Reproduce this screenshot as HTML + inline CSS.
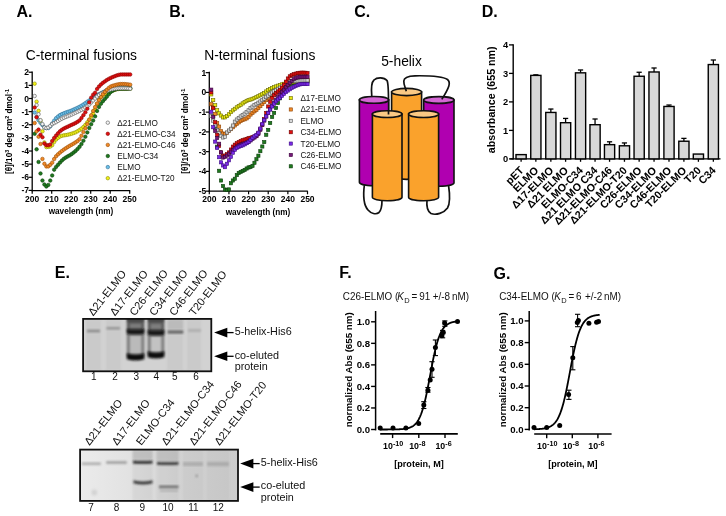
<!DOCTYPE html>
<html><head><meta charset="utf-8"><style>
html,body{margin:0;padding:0;background:#fff;}
svg{display:block;will-change:transform;font-family:"Liberation Sans", sans-serif;}
</style></head><body>
<svg width="726" height="516" viewBox="0 0 726 516">
<rect width="726" height="516" fill="#fff"/>
<text x="16.50" y="17.20" font-size="16" font-weight="bold" text-anchor="start" fill="#000" >A.</text>
<text x="169.20" y="17.40" font-size="16" font-weight="bold" text-anchor="start" fill="#000" >B.</text>
<text x="354.30" y="17.20" font-size="16" font-weight="bold" text-anchor="start" fill="#000" >C.</text>
<text x="481.80" y="16.90" font-size="16" font-weight="bold" text-anchor="start" fill="#000" >D.</text>
<text x="54.80" y="278.40" font-size="16" font-weight="bold" text-anchor="start" fill="#000" >E.</text>
<text x="339.30" y="277.70" font-size="16" font-weight="bold" text-anchor="start" fill="#000" >F.</text>
<text x="493.60" y="279.00" font-size="16" font-weight="bold" text-anchor="start" fill="#000" >G.</text>
<text x="25.80" y="59.70" font-size="13.8" text-anchor="start" fill="#000" >C-terminal fusions</text>
<line x1="32.20" y1="71.60" x2="32.20" y2="191.20" stroke="#000" stroke-width="1.3"/>
<line x1="31.60" y1="190.60" x2="130.20" y2="190.60" stroke="#000" stroke-width="1.3"/>
<line x1="28.60" y1="72.24" x2="32.20" y2="72.24" stroke="#000" stroke-width="1.2"/>
<text x="29.00" y="75.24" font-size="8.5" font-weight="bold" text-anchor="end" fill="#000" >2</text>
<line x1="28.60" y1="85.37" x2="32.20" y2="85.37" stroke="#000" stroke-width="1.2"/>
<text x="29.00" y="88.37" font-size="8.5" font-weight="bold" text-anchor="end" fill="#000" >1</text>
<line x1="28.60" y1="98.50" x2="32.20" y2="98.50" stroke="#000" stroke-width="1.2"/>
<text x="29.00" y="101.50" font-size="8.5" font-weight="bold" text-anchor="end" fill="#000" >0</text>
<line x1="28.60" y1="111.63" x2="32.20" y2="111.63" stroke="#000" stroke-width="1.2"/>
<text x="29.00" y="114.63" font-size="8.5" font-weight="bold" text-anchor="end" fill="#000" >-1</text>
<line x1="28.60" y1="124.76" x2="32.20" y2="124.76" stroke="#000" stroke-width="1.2"/>
<text x="29.00" y="127.76" font-size="8.5" font-weight="bold" text-anchor="end" fill="#000" >-2</text>
<line x1="28.60" y1="137.89" x2="32.20" y2="137.89" stroke="#000" stroke-width="1.2"/>
<text x="29.00" y="140.89" font-size="8.5" font-weight="bold" text-anchor="end" fill="#000" >-3</text>
<line x1="28.60" y1="151.02" x2="32.20" y2="151.02" stroke="#000" stroke-width="1.2"/>
<text x="29.00" y="154.02" font-size="8.5" font-weight="bold" text-anchor="end" fill="#000" >-4</text>
<line x1="28.60" y1="164.15" x2="32.20" y2="164.15" stroke="#000" stroke-width="1.2"/>
<text x="29.00" y="167.15" font-size="8.5" font-weight="bold" text-anchor="end" fill="#000" >-5</text>
<line x1="28.60" y1="177.28" x2="32.20" y2="177.28" stroke="#000" stroke-width="1.2"/>
<text x="29.00" y="180.28" font-size="8.5" font-weight="bold" text-anchor="end" fill="#000" >-6</text>
<line x1="28.60" y1="190.41" x2="32.20" y2="190.41" stroke="#000" stroke-width="1.2"/>
<text x="29.00" y="193.41" font-size="8.5" font-weight="bold" text-anchor="end" fill="#000" >-7</text>
<line x1="32.20" y1="190.60" x2="32.20" y2="193.80" stroke="#000" stroke-width="1.2"/>
<text x="32.20" y="202.30" font-size="8.5" font-weight="bold" text-anchor="middle" fill="#000" >200</text>
<line x1="51.70" y1="190.60" x2="51.70" y2="193.80" stroke="#000" stroke-width="1.2"/>
<text x="51.70" y="202.30" font-size="8.5" font-weight="bold" text-anchor="middle" fill="#000" >210</text>
<line x1="71.20" y1="190.60" x2="71.20" y2="193.80" stroke="#000" stroke-width="1.2"/>
<text x="71.20" y="202.30" font-size="8.5" font-weight="bold" text-anchor="middle" fill="#000" >220</text>
<line x1="90.70" y1="190.60" x2="90.70" y2="193.80" stroke="#000" stroke-width="1.2"/>
<text x="90.70" y="202.30" font-size="8.5" font-weight="bold" text-anchor="middle" fill="#000" >230</text>
<line x1="110.20" y1="190.60" x2="110.20" y2="193.80" stroke="#000" stroke-width="1.2"/>
<text x="110.20" y="202.30" font-size="8.5" font-weight="bold" text-anchor="middle" fill="#000" >240</text>
<line x1="129.70" y1="190.60" x2="129.70" y2="193.80" stroke="#000" stroke-width="1.2"/>
<text x="129.70" y="202.30" font-size="8.5" font-weight="bold" text-anchor="middle" fill="#000" >250</text>
<text x="81.00" y="214.00" font-size="8.2" font-weight="bold" text-anchor="middle" fill="#000" >wavelength (nm)</text>
<text transform="translate(11.6,131.5) rotate(-90)" font-size="8.2" font-weight="bold" text-anchor="middle">[&#952;]/10<tspan font-size="5.5" dy="-3">3</tspan><tspan dy="3"> deg cm</tspan><tspan font-size="5.5" dy="-3">2</tspan><tspan dy="3"> dmol</tspan><tspan font-size="5.5" dy="-3">-1</tspan></text>
<g fill="#6cc0e8" stroke="#2a6a90" stroke-width="0.6"><circle cx="34.65" cy="112.55" r="1.75"/><circle cx="36.60" cy="116.74" r="1.75"/><circle cx="38.55" cy="120.16" r="1.75"/><circle cx="40.50" cy="122.79" r="1.75"/><circle cx="42.45" cy="125.02" r="1.75"/><circle cx="44.40" cy="127.50" r="1.75"/><circle cx="46.35" cy="128.04" r="1.75"/><circle cx="48.30" cy="128.04" r="1.75"/><circle cx="50.25" cy="126.36" r="1.75"/><circle cx="52.20" cy="123.45" r="1.75"/><circle cx="54.15" cy="120.69" r="1.75"/><circle cx="56.10" cy="118.19" r="1.75"/><circle cx="58.05" cy="116.47" r="1.75"/><circle cx="60.00" cy="115.12" r="1.75"/><circle cx="61.95" cy="114.09" r="1.75"/><circle cx="63.90" cy="113.25" r="1.75"/><circle cx="65.85" cy="112.53" r="1.75"/><circle cx="67.80" cy="111.86" r="1.75"/><circle cx="69.75" cy="111.18" r="1.75"/><circle cx="71.70" cy="110.43" r="1.75"/><circle cx="73.65" cy="109.59" r="1.75"/><circle cx="75.60" cy="108.72" r="1.75"/><circle cx="77.55" cy="107.81" r="1.75"/><circle cx="79.50" cy="106.83" r="1.75"/><circle cx="81.45" cy="105.76" r="1.75"/><circle cx="83.40" cy="104.50" r="1.75"/><circle cx="85.35" cy="103.13" r="1.75"/><circle cx="87.30" cy="101.78" r="1.75"/><circle cx="89.25" cy="100.47" r="1.75"/><circle cx="91.20" cy="99.16" r="1.75"/><circle cx="93.15" cy="97.80" r="1.75"/><circle cx="95.10" cy="96.45" r="1.75"/><circle cx="97.05" cy="95.22" r="1.75"/><circle cx="99.00" cy="94.14" r="1.75"/><circle cx="100.95" cy="93.14" r="1.75"/><circle cx="102.90" cy="92.20" r="1.75"/><circle cx="104.85" cy="91.28" r="1.75"/><circle cx="106.80" cy="90.30" r="1.75"/><circle cx="108.75" cy="89.33" r="1.75"/><circle cx="110.70" cy="88.53" r="1.75"/><circle cx="112.65" cy="88.04" r="1.75"/><circle cx="114.60" cy="87.62" r="1.75"/><circle cx="116.55" cy="87.27" r="1.75"/><circle cx="118.50" cy="87.03" r="1.75"/><circle cx="120.45" cy="86.95" r="1.75"/><circle cx="122.40" cy="86.96" r="1.75"/><circle cx="124.35" cy="87.03" r="1.75"/><circle cx="126.30" cy="87.17" r="1.75"/><circle cx="128.25" cy="87.40" r="1.75"/><circle cx="130.20" cy="87.73" r="1.75"/></g>
<g fill="#f2f21a" stroke="#8a8a00" stroke-width="0.6"><circle cx="34.65" cy="83.66" r="1.75"/><circle cx="36.60" cy="101.65" r="1.75"/><circle cx="38.55" cy="110.87" r="1.75"/><circle cx="40.50" cy="120.69" r="1.75"/><circle cx="42.45" cy="131.32" r="1.75"/><circle cx="44.40" cy="142.41" r="1.75"/><circle cx="46.35" cy="147.08" r="1.75"/><circle cx="48.30" cy="146.90" r="1.75"/><circle cx="50.25" cy="146.52" r="1.75"/><circle cx="52.20" cy="145.13" r="1.75"/><circle cx="54.15" cy="142.09" r="1.75"/><circle cx="56.10" cy="139.47" r="1.75"/><circle cx="58.05" cy="137.82" r="1.75"/><circle cx="60.00" cy="136.51" r="1.75"/><circle cx="61.95" cy="135.76" r="1.75"/><circle cx="63.90" cy="135.37" r="1.75"/><circle cx="65.85" cy="135.07" r="1.75"/><circle cx="67.80" cy="134.69" r="1.75"/><circle cx="69.75" cy="134.22" r="1.75"/><circle cx="71.70" cy="133.67" r="1.75"/><circle cx="73.65" cy="133.04" r="1.75"/><circle cx="75.60" cy="132.29" r="1.75"/><circle cx="77.55" cy="131.26" r="1.75"/><circle cx="79.50" cy="130.02" r="1.75"/><circle cx="81.45" cy="128.67" r="1.75"/><circle cx="83.40" cy="127.02" r="1.75"/><circle cx="85.35" cy="124.87" r="1.75"/><circle cx="87.30" cy="122.34" r="1.75"/><circle cx="89.25" cy="119.61" r="1.75"/><circle cx="91.20" cy="116.71" r="1.75"/><circle cx="93.15" cy="113.46" r="1.75"/><circle cx="95.10" cy="109.56" r="1.75"/><circle cx="97.05" cy="103.98" r="1.75"/><circle cx="99.00" cy="99.78" r="1.75"/><circle cx="100.95" cy="97.09" r="1.75"/><circle cx="102.90" cy="95.22" r="1.75"/><circle cx="104.85" cy="93.91" r="1.75"/><circle cx="106.80" cy="92.86" r="1.75"/><circle cx="108.75" cy="92.00" r="1.75"/><circle cx="110.70" cy="91.28" r="1.75"/><circle cx="112.65" cy="90.59" r="1.75"/><circle cx="114.60" cy="89.92" r="1.75"/><circle cx="116.55" cy="89.34" r="1.75"/><circle cx="118.50" cy="88.94" r="1.75"/><circle cx="120.45" cy="88.78" r="1.75"/><circle cx="122.40" cy="88.78" r="1.75"/><circle cx="124.35" cy="88.78" r="1.75"/><circle cx="126.30" cy="88.78" r="1.75"/><circle cx="128.25" cy="88.78" r="1.75"/><circle cx="130.20" cy="88.78" r="1.75"/></g>
<g fill="#1f7a1f" stroke="#0a400a" stroke-width="0.6"><circle cx="34.65" cy="133.82" r="1.75"/><circle cx="36.60" cy="149.31" r="1.75"/><circle cx="38.55" cy="161.92" r="1.75"/><circle cx="40.50" cy="173.47" r="1.75"/><circle cx="42.45" cy="180.56" r="1.75"/><circle cx="44.40" cy="184.50" r="1.75"/><circle cx="46.35" cy="186.47" r="1.75"/><circle cx="48.30" cy="184.90" r="1.75"/><circle cx="50.25" cy="180.56" r="1.75"/><circle cx="52.20" cy="175.44" r="1.75"/><circle cx="54.15" cy="169.66" r="1.75"/><circle cx="56.10" cy="166.89" r="1.75"/><circle cx="58.05" cy="164.81" r="1.75"/><circle cx="60.00" cy="162.59" r="1.75"/><circle cx="61.95" cy="160.51" r="1.75"/><circle cx="63.90" cy="158.77" r="1.75"/><circle cx="65.85" cy="157.45" r="1.75"/><circle cx="67.80" cy="156.36" r="1.75"/><circle cx="69.75" cy="155.30" r="1.75"/><circle cx="71.70" cy="154.04" r="1.75"/><circle cx="73.65" cy="152.55" r="1.75"/><circle cx="75.60" cy="150.89" r="1.75"/><circle cx="77.55" cy="149.01" r="1.75"/><circle cx="79.50" cy="146.85" r="1.75"/><circle cx="81.45" cy="144.09" r="1.75"/><circle cx="83.40" cy="140.71" r="1.75"/><circle cx="85.35" cy="136.71" r="1.75"/><circle cx="87.30" cy="132.39" r="1.75"/><circle cx="89.25" cy="128.04" r="1.75"/><circle cx="91.20" cy="124.22" r="1.75"/><circle cx="93.15" cy="120.54" r="1.75"/><circle cx="95.10" cy="116.36" r="1.75"/><circle cx="97.05" cy="110.97" r="1.75"/><circle cx="99.00" cy="106.98" r="1.75"/><circle cx="100.95" cy="103.75" r="1.75"/><circle cx="102.90" cy="101.13" r="1.75"/><circle cx="104.85" cy="98.88" r="1.75"/><circle cx="106.80" cy="96.71" r="1.75"/><circle cx="108.75" cy="94.31" r="1.75"/><circle cx="110.70" cy="92.03" r="1.75"/><circle cx="112.65" cy="90.73" r="1.75"/><circle cx="114.60" cy="89.77" r="1.75"/><circle cx="116.55" cy="89.08" r="1.75"/><circle cx="118.50" cy="88.78" r="1.75"/><circle cx="120.45" cy="88.74" r="1.75"/><circle cx="122.40" cy="88.71" r="1.75"/><circle cx="124.35" cy="88.68" r="1.75"/><circle cx="126.30" cy="88.67" r="1.75"/><circle cx="128.25" cy="88.66" r="1.75"/><circle cx="130.20" cy="88.65" r="1.75"/></g>
<g fill="#f4f4f4" stroke="#555" stroke-width="0.6"><circle cx="34.65" cy="96.01" r="1.75"/><circle cx="36.60" cy="105.06" r="1.75"/><circle cx="38.55" cy="114.26" r="1.75"/><circle cx="40.50" cy="120.16" r="1.75"/><circle cx="42.45" cy="124.10" r="1.75"/><circle cx="44.40" cy="127.39" r="1.75"/><circle cx="46.35" cy="128.04" r="1.75"/><circle cx="48.30" cy="127.39" r="1.75"/><circle cx="50.25" cy="125.83" r="1.75"/><circle cx="52.20" cy="124.10" r="1.75"/><circle cx="54.15" cy="123.08" r="1.75"/><circle cx="56.10" cy="122.13" r="1.75"/><circle cx="58.05" cy="120.93" r="1.75"/><circle cx="60.00" cy="119.70" r="1.75"/><circle cx="61.95" cy="118.69" r="1.75"/><circle cx="63.90" cy="117.79" r="1.75"/><circle cx="65.85" cy="116.96" r="1.75"/><circle cx="67.80" cy="116.16" r="1.75"/><circle cx="69.75" cy="115.36" r="1.75"/><circle cx="71.70" cy="114.52" r="1.75"/><circle cx="73.65" cy="113.63" r="1.75"/><circle cx="75.60" cy="112.73" r="1.75"/><circle cx="77.55" cy="111.82" r="1.75"/><circle cx="79.50" cy="110.86" r="1.75"/><circle cx="81.45" cy="109.85" r="1.75"/><circle cx="83.40" cy="108.82" r="1.75"/><circle cx="85.35" cy="107.70" r="1.75"/><circle cx="87.30" cy="106.34" r="1.75"/><circle cx="89.25" cy="104.47" r="1.75"/><circle cx="91.20" cy="102.44" r="1.75"/><circle cx="93.15" cy="100.45" r="1.75"/><circle cx="95.10" cy="98.50" r="1.75"/><circle cx="97.05" cy="96.59" r="1.75"/><circle cx="99.00" cy="94.95" r="1.75"/><circle cx="100.95" cy="93.78" r="1.75"/><circle cx="102.90" cy="92.81" r="1.75"/><circle cx="104.85" cy="91.94" r="1.75"/><circle cx="106.80" cy="91.05" r="1.75"/><circle cx="108.75" cy="90.20" r="1.75"/><circle cx="110.70" cy="89.54" r="1.75"/><circle cx="112.65" cy="89.13" r="1.75"/><circle cx="114.60" cy="88.79" r="1.75"/><circle cx="116.55" cy="88.52" r="1.75"/><circle cx="118.50" cy="88.33" r="1.75"/><circle cx="120.45" cy="88.26" r="1.75"/><circle cx="122.40" cy="88.26" r="1.75"/><circle cx="124.35" cy="88.28" r="1.75"/><circle cx="126.30" cy="88.34" r="1.75"/><circle cx="128.25" cy="88.46" r="1.75"/><circle cx="130.20" cy="88.65" r="1.75"/></g>
<g fill="#f08a28" stroke="#9a4a00" stroke-width="0.6"><circle cx="34.65" cy="123.05" r="1.75"/><circle cx="36.60" cy="131.32" r="1.75"/><circle cx="38.55" cy="136.71" r="1.75"/><circle cx="40.50" cy="143.99" r="1.75"/><circle cx="42.45" cy="158.90" r="1.75"/><circle cx="44.40" cy="163.76" r="1.75"/><circle cx="46.35" cy="166.43" r="1.75"/><circle cx="48.30" cy="166.38" r="1.75"/><circle cx="50.25" cy="164.81" r="1.75"/><circle cx="52.20" cy="162.65" r="1.75"/><circle cx="54.15" cy="159.07" r="1.75"/><circle cx="56.10" cy="156.23" r="1.75"/><circle cx="58.05" cy="154.27" r="1.75"/><circle cx="60.00" cy="152.60" r="1.75"/><circle cx="61.95" cy="151.01" r="1.75"/><circle cx="63.90" cy="149.57" r="1.75"/><circle cx="65.85" cy="148.23" r="1.75"/><circle cx="67.80" cy="146.96" r="1.75"/><circle cx="69.75" cy="145.79" r="1.75"/><circle cx="71.70" cy="144.70" r="1.75"/><circle cx="73.65" cy="143.60" r="1.75"/><circle cx="75.60" cy="142.35" r="1.75"/><circle cx="77.55" cy="141.04" r="1.75"/><circle cx="79.50" cy="139.23" r="1.75"/><circle cx="81.45" cy="135.75" r="1.75"/><circle cx="83.40" cy="132.01" r="1.75"/><circle cx="85.35" cy="128.14" r="1.75"/><circle cx="87.30" cy="124.10" r="1.75"/><circle cx="89.25" cy="119.76" r="1.75"/><circle cx="91.20" cy="115.23" r="1.75"/><circle cx="93.15" cy="110.97" r="1.75"/><circle cx="95.10" cy="107.08" r="1.75"/><circle cx="97.05" cy="103.46" r="1.75"/><circle cx="99.00" cy="100.17" r="1.75"/><circle cx="100.95" cy="97.05" r="1.75"/><circle cx="102.90" cy="94.25" r="1.75"/><circle cx="104.85" cy="91.95" r="1.75"/><circle cx="106.80" cy="89.84" r="1.75"/><circle cx="108.75" cy="87.98" r="1.75"/><circle cx="110.70" cy="86.60" r="1.75"/><circle cx="112.65" cy="85.82" r="1.75"/><circle cx="114.60" cy="85.21" r="1.75"/><circle cx="116.55" cy="84.69" r="1.75"/><circle cx="118.50" cy="84.31" r="1.75"/><circle cx="120.45" cy="84.09" r="1.75"/><circle cx="122.40" cy="84.06" r="1.75"/><circle cx="124.35" cy="84.09" r="1.75"/><circle cx="126.30" cy="84.19" r="1.75"/><circle cx="128.25" cy="84.38" r="1.75"/><circle cx="130.20" cy="84.71" r="1.75"/></g>
<g fill="#e01010" stroke="#8a0000" stroke-width="0.6"><circle cx="34.65" cy="107.56" r="1.75"/><circle cx="36.60" cy="117.28" r="1.75"/><circle cx="38.55" cy="129.62" r="1.75"/><circle cx="40.50" cy="134.68" r="1.75"/><circle cx="42.45" cy="137.23" r="1.75"/><circle cx="44.40" cy="143.54" r="1.75"/><circle cx="46.35" cy="145.19" r="1.75"/><circle cx="48.30" cy="145.23" r="1.75"/><circle cx="50.25" cy="144.46" r="1.75"/><circle cx="52.20" cy="140.96" r="1.75"/><circle cx="54.15" cy="137.99" r="1.75"/><circle cx="56.10" cy="135.53" r="1.75"/><circle cx="58.05" cy="133.28" r="1.75"/><circle cx="60.00" cy="131.27" r="1.75"/><circle cx="61.95" cy="129.74" r="1.75"/><circle cx="63.90" cy="128.58" r="1.75"/><circle cx="65.85" cy="127.59" r="1.75"/><circle cx="67.80" cy="126.63" r="1.75"/><circle cx="69.75" cy="125.71" r="1.75"/><circle cx="71.70" cy="124.85" r="1.75"/><circle cx="73.65" cy="123.95" r="1.75"/><circle cx="75.60" cy="122.95" r="1.75"/><circle cx="77.55" cy="121.84" r="1.75"/><circle cx="79.50" cy="120.38" r="1.75"/><circle cx="81.45" cy="118.04" r="1.75"/><circle cx="83.40" cy="115.13" r="1.75"/><circle cx="85.35" cy="112.34" r="1.75"/><circle cx="87.30" cy="108.70" r="1.75"/><circle cx="89.25" cy="102.31" r="1.75"/><circle cx="91.20" cy="97.63" r="1.75"/><circle cx="93.15" cy="94.67" r="1.75"/><circle cx="95.10" cy="92.73" r="1.75"/><circle cx="97.05" cy="89.05" r="1.75"/><circle cx="99.00" cy="86.50" r="1.75"/><circle cx="100.95" cy="84.50" r="1.75"/><circle cx="102.90" cy="82.86" r="1.75"/><circle cx="104.85" cy="81.40" r="1.75"/><circle cx="106.80" cy="80.07" r="1.75"/><circle cx="108.75" cy="78.90" r="1.75"/><circle cx="110.70" cy="77.91" r="1.75"/><circle cx="112.65" cy="77.09" r="1.75"/><circle cx="114.60" cy="76.27" r="1.75"/><circle cx="116.55" cy="75.51" r="1.75"/><circle cx="118.50" cy="74.90" r="1.75"/><circle cx="120.45" cy="74.54" r="1.75"/><circle cx="122.40" cy="74.47" r="1.75"/><circle cx="124.35" cy="74.47" r="1.75"/><circle cx="126.30" cy="74.47" r="1.75"/><circle cx="128.25" cy="74.47" r="1.75"/><circle cx="130.20" cy="74.47" r="1.75"/></g>
<circle cx="107.8" cy="122.70" r="1.75" fill="#f4f4f4" stroke="#555" stroke-width="0.6"/>
<text x="117.30" y="125.70" font-size="8.2" text-anchor="start" fill="#111" >&#916;21-ELMO</text>
<circle cx="107.8" cy="133.80" r="1.75" fill="#e01010" stroke="#8a0000" stroke-width="0.6"/>
<text x="117.30" y="136.80" font-size="8.2" text-anchor="start" fill="#111" >&#916;21-ELMO-C34</text>
<circle cx="107.8" cy="144.90" r="1.75" fill="#f08a28" stroke="#9a4a00" stroke-width="0.6"/>
<text x="117.30" y="147.90" font-size="8.2" text-anchor="start" fill="#111" >&#916;21-ELMO-C46</text>
<circle cx="107.8" cy="156.00" r="1.75" fill="#1f7a1f" stroke="#0a400a" stroke-width="0.6"/>
<text x="117.30" y="159.00" font-size="8.2" text-anchor="start" fill="#111" >ELMO-C34</text>
<circle cx="107.8" cy="167.10" r="1.75" fill="#6cc0e8" stroke="#2a6a90" stroke-width="0.6"/>
<text x="117.30" y="170.10" font-size="8.2" text-anchor="start" fill="#111" >ELMO</text>
<circle cx="107.8" cy="178.20" r="1.75" fill="#f2f21a" stroke="#8a8a00" stroke-width="0.6"/>
<text x="117.30" y="181.20" font-size="8.2" text-anchor="start" fill="#111" >&#916;21-ELMO-T20</text>
<text x="204.20" y="59.60" font-size="13.8" text-anchor="start" fill="#000" >N-terminal fusions</text>
<line x1="209.30" y1="71.80" x2="209.30" y2="191.70" stroke="#000" stroke-width="1.3"/>
<line x1="208.70" y1="191.10" x2="307.80" y2="191.10" stroke="#000" stroke-width="1.3"/>
<line x1="205.70" y1="72.65" x2="209.30" y2="72.65" stroke="#000" stroke-width="1.2"/>
<text x="206.20" y="75.65" font-size="8.5" font-weight="bold" text-anchor="end" fill="#000" >1</text>
<line x1="205.70" y1="92.40" x2="209.30" y2="92.40" stroke="#000" stroke-width="1.2"/>
<text x="206.20" y="95.40" font-size="8.5" font-weight="bold" text-anchor="end" fill="#000" >0</text>
<line x1="205.70" y1="112.15" x2="209.30" y2="112.15" stroke="#000" stroke-width="1.2"/>
<text x="206.20" y="115.15" font-size="8.5" font-weight="bold" text-anchor="end" fill="#000" >-1</text>
<line x1="205.70" y1="131.90" x2="209.30" y2="131.90" stroke="#000" stroke-width="1.2"/>
<text x="206.20" y="134.90" font-size="8.5" font-weight="bold" text-anchor="end" fill="#000" >-2</text>
<line x1="205.70" y1="151.65" x2="209.30" y2="151.65" stroke="#000" stroke-width="1.2"/>
<text x="206.20" y="154.65" font-size="8.5" font-weight="bold" text-anchor="end" fill="#000" >-3</text>
<line x1="205.70" y1="171.40" x2="209.30" y2="171.40" stroke="#000" stroke-width="1.2"/>
<text x="206.20" y="174.40" font-size="8.5" font-weight="bold" text-anchor="end" fill="#000" >-4</text>
<line x1="205.70" y1="191.15" x2="209.30" y2="191.15" stroke="#000" stroke-width="1.2"/>
<text x="206.20" y="194.15" font-size="8.5" font-weight="bold" text-anchor="end" fill="#000" >-5</text>
<line x1="209.30" y1="191.10" x2="209.30" y2="194.30" stroke="#000" stroke-width="1.2"/>
<text x="209.30" y="202.10" font-size="8.5" font-weight="bold" text-anchor="middle" fill="#000" >200</text>
<line x1="228.94" y1="191.10" x2="228.94" y2="194.30" stroke="#000" stroke-width="1.2"/>
<text x="228.94" y="202.10" font-size="8.5" font-weight="bold" text-anchor="middle" fill="#000" >210</text>
<line x1="248.58" y1="191.10" x2="248.58" y2="194.30" stroke="#000" stroke-width="1.2"/>
<text x="248.58" y="202.10" font-size="8.5" font-weight="bold" text-anchor="middle" fill="#000" >220</text>
<line x1="268.22" y1="191.10" x2="268.22" y2="194.30" stroke="#000" stroke-width="1.2"/>
<text x="268.22" y="202.10" font-size="8.5" font-weight="bold" text-anchor="middle" fill="#000" >230</text>
<line x1="287.86" y1="191.10" x2="287.86" y2="194.30" stroke="#000" stroke-width="1.2"/>
<text x="287.86" y="202.10" font-size="8.5" font-weight="bold" text-anchor="middle" fill="#000" >240</text>
<line x1="307.50" y1="191.10" x2="307.50" y2="194.30" stroke="#000" stroke-width="1.2"/>
<text x="307.50" y="202.10" font-size="8.5" font-weight="bold" text-anchor="middle" fill="#000" >250</text>
<text x="258.00" y="214.50" font-size="8.2" font-weight="bold" text-anchor="middle" fill="#000" >wavelength (nm)</text>
<text transform="translate(188.4,131.2) rotate(-90)" font-size="8.2" font-weight="bold" text-anchor="middle">[&#952;]/10<tspan font-size="5.5" dy="-3">3</tspan><tspan dy="3"> deg cm</tspan><tspan font-size="5.5" dy="-3">2</tspan><tspan dy="3"> dmol</tspan><tspan font-size="5.5" dy="-3">-1</tspan></text>
<g fill="#1f7a1f" stroke="#0a3a0a" stroke-width="0.6"><rect x="211.63" y="114.50" width="3.2" height="3.2"/><rect x="213.59" y="125.50" width="3.2" height="3.2"/><rect x="215.56" y="145.10" width="3.2" height="3.2"/><rect x="217.52" y="169.21" width="3.2" height="3.2"/><rect x="219.48" y="178.89" width="3.2" height="3.2"/><rect x="221.45" y="184.43" width="3.2" height="3.2"/><rect x="223.41" y="187.88" width="3.2" height="3.2"/><rect x="225.38" y="188.48" width="3.2" height="3.2"/><rect x="227.34" y="187.80" width="3.2" height="3.2"/><rect x="229.30" y="181.65" width="3.2" height="3.2"/><rect x="231.27" y="178.89" width="3.2" height="3.2"/><rect x="233.23" y="177.15" width="3.2" height="3.2"/><rect x="235.20" y="173.50" width="3.2" height="3.2"/><rect x="237.16" y="171.42" width="3.2" height="3.2"/><rect x="239.12" y="170.28" width="3.2" height="3.2"/><rect x="241.09" y="169.31" width="3.2" height="3.2"/><rect x="243.05" y="168.33" width="3.2" height="3.2"/><rect x="245.02" y="166.91" width="3.2" height="3.2"/><rect x="246.98" y="165.85" width="3.2" height="3.2"/><rect x="248.94" y="165.40" width="3.2" height="3.2"/><rect x="250.91" y="164.26" width="3.2" height="3.2"/><rect x="252.87" y="161.18" width="3.2" height="3.2"/><rect x="254.84" y="157.62" width="3.2" height="3.2"/><rect x="256.80" y="154.06" width="3.2" height="3.2"/><rect x="258.76" y="149.56" width="3.2" height="3.2"/><rect x="260.73" y="144.91" width="3.2" height="3.2"/><rect x="262.69" y="140.49" width="3.2" height="3.2"/><rect x="264.66" y="133.14" width="3.2" height="3.2"/><rect x="266.62" y="128.29" width="3.2" height="3.2"/><rect x="268.58" y="121.40" width="3.2" height="3.2"/><rect x="270.55" y="115.34" width="3.2" height="3.2"/><rect x="272.51" y="111.28" width="3.2" height="3.2"/><rect x="274.48" y="106.40" width="3.2" height="3.2"/><rect x="276.44" y="101.45" width="3.2" height="3.2"/><rect x="278.40" y="96.73" width="3.2" height="3.2"/><rect x="280.37" y="92.15" width="3.2" height="3.2"/><rect x="282.33" y="87.85" width="3.2" height="3.2"/><rect x="284.30" y="85.03" width="3.2" height="3.2"/><rect x="286.26" y="83.72" width="3.2" height="3.2"/><rect x="288.22" y="82.68" width="3.2" height="3.2"/><rect x="290.19" y="81.88" width="3.2" height="3.2"/><rect x="292.15" y="81.30" width="3.2" height="3.2"/><rect x="294.12" y="80.93" width="3.2" height="3.2"/><rect x="296.08" y="80.66" width="3.2" height="3.2"/><rect x="298.04" y="80.42" width="3.2" height="3.2"/><rect x="300.01" y="80.22" width="3.2" height="3.2"/><rect x="301.97" y="80.07" width="3.2" height="3.2"/><rect x="303.94" y="79.97" width="3.2" height="3.2"/><rect x="305.90" y="79.94" width="3.2" height="3.2"/></g>
<g fill="#f08a28" stroke="#8a4000" stroke-width="0.6"><rect x="209.66" y="102.65" width="3.2" height="3.2"/><rect x="211.63" y="105.55" width="3.2" height="3.2"/><rect x="213.59" y="112.33" width="3.2" height="3.2"/><rect x="215.56" y="121.58" width="3.2" height="3.2"/><rect x="217.52" y="125.01" width="3.2" height="3.2"/><rect x="219.48" y="129.55" width="3.2" height="3.2"/><rect x="221.45" y="131.90" width="3.2" height="3.2"/><rect x="223.41" y="132.28" width="3.2" height="3.2"/><rect x="225.38" y="131.20" width="3.2" height="3.2"/><rect x="227.34" y="129.31" width="3.2" height="3.2"/><rect x="229.30" y="127.56" width="3.2" height="3.2"/><rect x="231.27" y="125.67" width="3.2" height="3.2"/><rect x="233.23" y="123.85" width="3.2" height="3.2"/><rect x="235.20" y="122.25" width="3.2" height="3.2"/><rect x="237.16" y="120.77" width="3.2" height="3.2"/><rect x="239.12" y="119.47" width="3.2" height="3.2"/><rect x="241.09" y="118.47" width="3.2" height="3.2"/><rect x="243.05" y="117.69" width="3.2" height="3.2"/><rect x="245.02" y="116.77" width="3.2" height="3.2"/><rect x="246.98" y="115.16" width="3.2" height="3.2"/><rect x="248.94" y="112.92" width="3.2" height="3.2"/><rect x="250.91" y="111.23" width="3.2" height="3.2"/><rect x="252.87" y="109.72" width="3.2" height="3.2"/><rect x="254.84" y="108.20" width="3.2" height="3.2"/><rect x="256.80" y="106.47" width="3.2" height="3.2"/><rect x="258.76" y="104.53" width="3.2" height="3.2"/><rect x="260.73" y="102.49" width="3.2" height="3.2"/><rect x="262.69" y="100.47" width="3.2" height="3.2"/><rect x="264.66" y="98.51" width="3.2" height="3.2"/><rect x="266.62" y="96.56" width="3.2" height="3.2"/><rect x="268.58" y="94.71" width="3.2" height="3.2"/><rect x="270.55" y="92.99" width="3.2" height="3.2"/><rect x="272.51" y="91.34" width="3.2" height="3.2"/><rect x="274.48" y="89.77" width="3.2" height="3.2"/><rect x="276.44" y="88.27" width="3.2" height="3.2"/><rect x="278.40" y="86.85" width="3.2" height="3.2"/><rect x="280.37" y="85.46" width="3.2" height="3.2"/><rect x="282.33" y="84.10" width="3.2" height="3.2"/><rect x="284.30" y="82.88" width="3.2" height="3.2"/><rect x="286.26" y="81.91" width="3.2" height="3.2"/><rect x="288.22" y="81.11" width="3.2" height="3.2"/><rect x="290.19" y="80.35" width="3.2" height="3.2"/><rect x="292.15" y="79.70" width="3.2" height="3.2"/><rect x="294.12" y="79.22" width="3.2" height="3.2"/><rect x="296.08" y="78.95" width="3.2" height="3.2"/><rect x="298.04" y="78.82" width="3.2" height="3.2"/><rect x="300.01" y="78.71" width="3.2" height="3.2"/><rect x="301.97" y="78.63" width="3.2" height="3.2"/><rect x="303.94" y="78.57" width="3.2" height="3.2"/><rect x="305.90" y="78.56" width="3.2" height="3.2"/></g>
<g fill="#eaea10" stroke="#6a6a00" stroke-width="0.6"><rect x="209.66" y="92.78" width="3.2" height="3.2"/><rect x="211.63" y="98.50" width="3.2" height="3.2"/><rect x="213.59" y="103.64" width="3.2" height="3.2"/><rect x="215.56" y="108.59" width="3.2" height="3.2"/><rect x="217.52" y="111.77" width="3.2" height="3.2"/><rect x="219.48" y="113.92" width="3.2" height="3.2"/><rect x="221.45" y="115.83" width="3.2" height="3.2"/><rect x="223.41" y="115.76" width="3.2" height="3.2"/><rect x="225.38" y="114.50" width="3.2" height="3.2"/><rect x="227.34" y="112.70" width="3.2" height="3.2"/><rect x="229.30" y="110.52" width="3.2" height="3.2"/><rect x="231.27" y="108.75" width="3.2" height="3.2"/><rect x="233.23" y="107.18" width="3.2" height="3.2"/><rect x="235.20" y="105.72" width="3.2" height="3.2"/><rect x="237.16" y="104.38" width="3.2" height="3.2"/><rect x="239.12" y="103.10" width="3.2" height="3.2"/><rect x="241.09" y="101.78" width="3.2" height="3.2"/><rect x="243.05" y="100.42" width="3.2" height="3.2"/><rect x="245.02" y="99.25" width="3.2" height="3.2"/><rect x="246.98" y="98.50" width="3.2" height="3.2"/><rect x="248.94" y="97.91" width="3.2" height="3.2"/><rect x="250.91" y="97.18" width="3.2" height="3.2"/><rect x="252.87" y="96.38" width="3.2" height="3.2"/><rect x="254.84" y="95.52" width="3.2" height="3.2"/><rect x="256.80" y="94.61" width="3.2" height="3.2"/><rect x="258.76" y="93.62" width="3.2" height="3.2"/><rect x="260.73" y="92.58" width="3.2" height="3.2"/><rect x="262.69" y="91.32" width="3.2" height="3.2"/><rect x="264.66" y="89.88" width="3.2" height="3.2"/><rect x="266.62" y="88.52" width="3.2" height="3.2"/><rect x="268.58" y="87.44" width="3.2" height="3.2"/><rect x="270.55" y="86.50" width="3.2" height="3.2"/><rect x="272.51" y="85.62" width="3.2" height="3.2"/><rect x="274.48" y="84.81" width="3.2" height="3.2"/><rect x="276.44" y="84.06" width="3.2" height="3.2"/><rect x="278.40" y="83.38" width="3.2" height="3.2"/><rect x="280.37" y="82.76" width="3.2" height="3.2"/><rect x="282.33" y="82.20" width="3.2" height="3.2"/><rect x="284.30" y="81.68" width="3.2" height="3.2"/><rect x="286.26" y="81.20" width="3.2" height="3.2"/><rect x="288.22" y="80.75" width="3.2" height="3.2"/><rect x="290.19" y="80.35" width="3.2" height="3.2"/><rect x="292.15" y="80.01" width="3.2" height="3.2"/><rect x="294.12" y="79.74" width="3.2" height="3.2"/><rect x="296.08" y="79.51" width="3.2" height="3.2"/><rect x="298.04" y="79.29" width="3.2" height="3.2"/><rect x="300.01" y="79.10" width="3.2" height="3.2"/><rect x="301.97" y="78.94" width="3.2" height="3.2"/><rect x="303.94" y="78.82" width="3.2" height="3.2"/><rect x="305.90" y="78.75" width="3.2" height="3.2"/></g>
<g fill="#d8d8d8" stroke="#555" stroke-width="0.6"><rect x="209.66" y="114.50" width="3.2" height="3.2"/><rect x="211.63" y="119.05" width="3.2" height="3.2"/><rect x="213.59" y="123.84" width="3.2" height="3.2"/><rect x="215.56" y="128.33" width="3.2" height="3.2"/><rect x="217.52" y="131.75" width="3.2" height="3.2"/><rect x="219.48" y="134.25" width="3.2" height="3.2"/><rect x="221.45" y="135.91" width="3.2" height="3.2"/><rect x="223.41" y="135.13" width="3.2" height="3.2"/><rect x="225.38" y="130.89" width="3.2" height="3.2"/><rect x="227.34" y="128.87" width="3.2" height="3.2"/><rect x="229.30" y="127.10" width="3.2" height="3.2"/><rect x="231.27" y="123.94" width="3.2" height="3.2"/><rect x="233.23" y="120.03" width="3.2" height="3.2"/><rect x="235.20" y="117.91" width="3.2" height="3.2"/><rect x="237.16" y="116.28" width="3.2" height="3.2"/><rect x="239.12" y="114.81" width="3.2" height="3.2"/><rect x="241.09" y="113.35" width="3.2" height="3.2"/><rect x="243.05" y="112.03" width="3.2" height="3.2"/><rect x="245.02" y="110.61" width="3.2" height="3.2"/><rect x="246.98" y="108.73" width="3.2" height="3.2"/><rect x="248.94" y="106.60" width="3.2" height="3.2"/><rect x="250.91" y="105.01" width="3.2" height="3.2"/><rect x="252.87" y="103.60" width="3.2" height="3.2"/><rect x="254.84" y="102.32" width="3.2" height="3.2"/><rect x="256.80" y="101.10" width="3.2" height="3.2"/><rect x="258.76" y="99.84" width="3.2" height="3.2"/><rect x="260.73" y="98.50" width="3.2" height="3.2"/><rect x="262.69" y="97.05" width="3.2" height="3.2"/><rect x="264.66" y="95.53" width="3.2" height="3.2"/><rect x="266.62" y="94.00" width="3.2" height="3.2"/><rect x="268.58" y="92.48" width="3.2" height="3.2"/><rect x="270.55" y="91.00" width="3.2" height="3.2"/><rect x="272.51" y="89.62" width="3.2" height="3.2"/><rect x="274.48" y="88.35" width="3.2" height="3.2"/><rect x="276.44" y="87.17" width="3.2" height="3.2"/><rect x="278.40" y="86.01" width="3.2" height="3.2"/><rect x="280.37" y="84.80" width="3.2" height="3.2"/><rect x="282.33" y="83.44" width="3.2" height="3.2"/><rect x="284.30" y="81.67" width="3.2" height="3.2"/><rect x="286.26" y="80.39" width="3.2" height="3.2"/><rect x="288.22" y="79.98" width="3.2" height="3.2"/><rect x="290.19" y="79.70" width="3.2" height="3.2"/><rect x="292.15" y="79.50" width="3.2" height="3.2"/><rect x="294.12" y="79.35" width="3.2" height="3.2"/><rect x="296.08" y="79.20" width="3.2" height="3.2"/><rect x="298.04" y="79.06" width="3.2" height="3.2"/><rect x="300.01" y="78.94" width="3.2" height="3.2"/><rect x="301.97" y="78.85" width="3.2" height="3.2"/><rect x="303.94" y="78.78" width="3.2" height="3.2"/><rect x="305.90" y="78.75" width="3.2" height="3.2"/></g>
<g fill="#e01010" stroke="#700000" stroke-width="0.6"><rect x="209.66" y="90.80" width="3.2" height="3.2"/><rect x="211.63" y="106.60" width="3.2" height="3.2"/><rect x="213.59" y="120.68" width="3.2" height="3.2"/><rect x="215.56" y="133.35" width="3.2" height="3.2"/><rect x="217.52" y="144.13" width="3.2" height="3.2"/><rect x="219.48" y="150.82" width="3.2" height="3.2"/><rect x="221.45" y="154.36" width="3.2" height="3.2"/><rect x="223.41" y="153.90" width="3.2" height="3.2"/><rect x="225.38" y="152.64" width="3.2" height="3.2"/><rect x="227.34" y="150.83" width="3.2" height="3.2"/><rect x="229.30" y="147.95" width="3.2" height="3.2"/><rect x="231.27" y="145.02" width="3.2" height="3.2"/><rect x="233.23" y="143.08" width="3.2" height="3.2"/><rect x="235.20" y="141.66" width="3.2" height="3.2"/><rect x="237.16" y="140.48" width="3.2" height="3.2"/><rect x="239.12" y="139.49" width="3.2" height="3.2"/><rect x="241.09" y="138.66" width="3.2" height="3.2"/><rect x="243.05" y="137.95" width="3.2" height="3.2"/><rect x="245.02" y="137.28" width="3.2" height="3.2"/><rect x="246.98" y="136.65" width="3.2" height="3.2"/><rect x="248.94" y="136.16" width="3.2" height="3.2"/><rect x="250.91" y="135.67" width="3.2" height="3.2"/><rect x="252.87" y="135.01" width="3.2" height="3.2"/><rect x="254.84" y="133.98" width="3.2" height="3.2"/><rect x="256.80" y="131.36" width="3.2" height="3.2"/><rect x="258.76" y="127.46" width="3.2" height="3.2"/><rect x="260.73" y="123.05" width="3.2" height="3.2"/><rect x="262.69" y="117.45" width="3.2" height="3.2"/><rect x="264.66" y="111.33" width="3.2" height="3.2"/><rect x="266.62" y="104.88" width="3.2" height="3.2"/><rect x="268.58" y="100.18" width="3.2" height="3.2"/><rect x="270.55" y="96.36" width="3.2" height="3.2"/><rect x="272.51" y="93.57" width="3.2" height="3.2"/><rect x="274.48" y="91.58" width="3.2" height="3.2"/><rect x="276.44" y="89.86" width="3.2" height="3.2"/><rect x="278.40" y="88.23" width="3.2" height="3.2"/><rect x="280.37" y="86.03" width="3.2" height="3.2"/><rect x="282.33" y="83.06" width="3.2" height="3.2"/><rect x="284.30" y="80.04" width="3.2" height="3.2"/><rect x="286.26" y="76.88" width="3.2" height="3.2"/><rect x="288.22" y="74.72" width="3.2" height="3.2"/><rect x="290.19" y="73.52" width="3.2" height="3.2"/><rect x="292.15" y="72.64" width="3.2" height="3.2"/><rect x="294.12" y="72.04" width="3.2" height="3.2"/><rect x="296.08" y="71.57" width="3.2" height="3.2"/><rect x="298.04" y="71.20" width="3.2" height="3.2"/><rect x="300.01" y="71.05" width="3.2" height="3.2"/><rect x="301.97" y="71.07" width="3.2" height="3.2"/><rect x="303.94" y="71.18" width="3.2" height="3.2"/><rect x="305.90" y="71.45" width="3.2" height="3.2"/></g>
<g fill="#761a7a" stroke="#3a003a" stroke-width="0.6"><rect x="209.66" y="88.04" width="3.2" height="3.2"/><rect x="211.63" y="115.39" width="3.2" height="3.2"/><rect x="213.59" y="129.41" width="3.2" height="3.2"/><rect x="215.56" y="136.41" width="3.2" height="3.2"/><rect x="217.52" y="142.15" width="3.2" height="3.2"/><rect x="219.48" y="150.70" width="3.2" height="3.2"/><rect x="221.45" y="155.97" width="3.2" height="3.2"/><rect x="223.41" y="155.32" width="3.2" height="3.2"/><rect x="225.38" y="154.00" width="3.2" height="3.2"/><rect x="227.34" y="152.14" width="3.2" height="3.2"/><rect x="229.30" y="150.05" width="3.2" height="3.2"/><rect x="231.27" y="148.27" width="3.2" height="3.2"/><rect x="233.23" y="146.57" width="3.2" height="3.2"/><rect x="235.20" y="145.08" width="3.2" height="3.2"/><rect x="237.16" y="143.93" width="3.2" height="3.2"/><rect x="239.12" y="143.11" width="3.2" height="3.2"/><rect x="241.09" y="142.47" width="3.2" height="3.2"/><rect x="243.05" y="141.87" width="3.2" height="3.2"/><rect x="245.02" y="141.18" width="3.2" height="3.2"/><rect x="246.98" y="140.26" width="3.2" height="3.2"/><rect x="248.94" y="138.83" width="3.2" height="3.2"/><rect x="250.91" y="137.21" width="3.2" height="3.2"/><rect x="252.87" y="135.92" width="3.2" height="3.2"/><rect x="254.84" y="134.57" width="3.2" height="3.2"/><rect x="256.80" y="132.45" width="3.2" height="3.2"/><rect x="258.76" y="128.20" width="3.2" height="3.2"/><rect x="260.73" y="123.39" width="3.2" height="3.2"/><rect x="262.69" y="119.00" width="3.2" height="3.2"/><rect x="264.66" y="114.90" width="3.2" height="3.2"/><rect x="266.62" y="111.14" width="3.2" height="3.2"/><rect x="268.58" y="107.59" width="3.2" height="3.2"/><rect x="270.55" y="104.13" width="3.2" height="3.2"/><rect x="272.51" y="100.88" width="3.2" height="3.2"/><rect x="274.48" y="98.02" width="3.2" height="3.2"/><rect x="276.44" y="95.47" width="3.2" height="3.2"/><rect x="278.40" y="93.02" width="3.2" height="3.2"/><rect x="280.37" y="90.53" width="3.2" height="3.2"/><rect x="282.33" y="88.05" width="3.2" height="3.2"/><rect x="284.30" y="85.67" width="3.2" height="3.2"/><rect x="286.26" y="83.37" width="3.2" height="3.2"/><rect x="288.22" y="81.32" width="3.2" height="3.2"/><rect x="290.19" y="79.29" width="3.2" height="3.2"/><rect x="292.15" y="77.50" width="3.2" height="3.2"/><rect x="294.12" y="76.38" width="3.2" height="3.2"/><rect x="296.08" y="75.79" width="3.2" height="3.2"/><rect x="298.04" y="75.36" width="3.2" height="3.2"/><rect x="300.01" y="75.20" width="3.2" height="3.2"/><rect x="301.97" y="75.20" width="3.2" height="3.2"/><rect x="303.94" y="75.20" width="3.2" height="3.2"/><rect x="305.90" y="75.20" width="3.2" height="3.2"/></g>
<g fill="#7a2ae6" stroke="#3a0a80" stroke-width="0.6"><rect x="209.66" y="110.16" width="3.2" height="3.2"/><rect x="211.63" y="125.62" width="3.2" height="3.2"/><rect x="213.59" y="139.99" width="3.2" height="3.2"/><rect x="215.56" y="146.37" width="3.2" height="3.2"/><rect x="217.52" y="155.58" width="3.2" height="3.2"/><rect x="219.48" y="160.72" width="3.2" height="3.2"/><rect x="221.45" y="163.86" width="3.2" height="3.2"/><rect x="223.41" y="165.57" width="3.2" height="3.2"/><rect x="225.38" y="162.17" width="3.2" height="3.2"/><rect x="227.34" y="158.72" width="3.2" height="3.2"/><rect x="229.30" y="155.25" width="3.2" height="3.2"/><rect x="231.27" y="151.16" width="3.2" height="3.2"/><rect x="233.23" y="148.11" width="3.2" height="3.2"/><rect x="235.20" y="146.29" width="3.2" height="3.2"/><rect x="237.16" y="145.22" width="3.2" height="3.2"/><rect x="239.12" y="144.51" width="3.2" height="3.2"/><rect x="241.09" y="143.73" width="3.2" height="3.2"/><rect x="243.05" y="142.72" width="3.2" height="3.2"/><rect x="245.02" y="141.55" width="3.2" height="3.2"/><rect x="246.98" y="140.18" width="3.2" height="3.2"/><rect x="248.94" y="138.27" width="3.2" height="3.2"/><rect x="250.91" y="136.22" width="3.2" height="3.2"/><rect x="252.87" y="134.72" width="3.2" height="3.2"/><rect x="254.84" y="133.26" width="3.2" height="3.2"/><rect x="256.80" y="131.04" width="3.2" height="3.2"/><rect x="258.76" y="126.91" width="3.2" height="3.2"/><rect x="260.73" y="122.40" width="3.2" height="3.2"/><rect x="262.69" y="118.51" width="3.2" height="3.2"/><rect x="264.66" y="114.83" width="3.2" height="3.2"/><rect x="266.62" y="111.29" width="3.2" height="3.2"/><rect x="268.58" y="107.98" width="3.2" height="3.2"/><rect x="270.55" y="104.88" width="3.2" height="3.2"/><rect x="272.51" y="102.05" width="3.2" height="3.2"/><rect x="274.48" y="99.76" width="3.2" height="3.2"/><rect x="276.44" y="97.83" width="3.2" height="3.2"/><rect x="278.40" y="96.05" width="3.2" height="3.2"/><rect x="280.37" y="94.22" width="3.2" height="3.2"/><rect x="282.33" y="92.33" width="3.2" height="3.2"/><rect x="284.30" y="90.53" width="3.2" height="3.2"/><rect x="286.26" y="88.96" width="3.2" height="3.2"/><rect x="288.22" y="87.64" width="3.2" height="3.2"/><rect x="290.19" y="86.44" width="3.2" height="3.2"/><rect x="292.15" y="85.38" width="3.2" height="3.2"/><rect x="294.12" y="84.48" width="3.2" height="3.2"/><rect x="296.08" y="83.60" width="3.2" height="3.2"/><rect x="298.04" y="82.84" width="3.2" height="3.2"/><rect x="300.01" y="82.51" width="3.2" height="3.2"/><rect x="301.97" y="82.51" width="3.2" height="3.2"/><rect x="303.94" y="82.51" width="3.2" height="3.2"/><rect x="305.90" y="82.51" width="3.2" height="3.2"/></g>
<rect x="289.20" y="96.50" width="3.2" height="3.2" fill="#eaea10" stroke="#6a6a00" stroke-width="0.6"/>
<text x="300.40" y="101.10" font-size="8.2" text-anchor="start" fill="#111" >&#916;17-ELMO</text>
<rect x="289.20" y="107.87" width="3.2" height="3.2" fill="#f08a28" stroke="#8a4000" stroke-width="0.6"/>
<text x="300.40" y="112.47" font-size="8.2" text-anchor="start" fill="#111" >&#916;21-ELMO</text>
<rect x="289.20" y="119.24" width="3.2" height="3.2" fill="#d8d8d8" stroke="#555" stroke-width="0.6"/>
<text x="300.40" y="123.84" font-size="8.2" text-anchor="start" fill="#111" >ELMO</text>
<rect x="289.20" y="130.61" width="3.2" height="3.2" fill="#e01010" stroke="#700000" stroke-width="0.6"/>
<text x="300.40" y="135.21" font-size="8.2" text-anchor="start" fill="#111" >C34-ELMO</text>
<rect x="289.20" y="141.98" width="3.2" height="3.2" fill="#7a2ae6" stroke="#3a0a80" stroke-width="0.6"/>
<text x="300.40" y="146.58" font-size="8.2" text-anchor="start" fill="#111" >T20-ELMO</text>
<rect x="289.20" y="153.35" width="3.2" height="3.2" fill="#761a7a" stroke="#3a003a" stroke-width="0.6"/>
<text x="300.40" y="157.95" font-size="8.2" text-anchor="start" fill="#111" >C26-ELMO</text>
<rect x="289.20" y="164.72" width="3.2" height="3.2" fill="#1f7a1f" stroke="#0a3a0a" stroke-width="0.6"/>
<text x="300.40" y="169.32" font-size="8.2" text-anchor="start" fill="#111" >C46-ELMO</text>
<text x="381.20" y="65.60" font-size="13.8" text-anchor="start" fill="#000" >5-helix</text>
<path d="M371.8,96.6 C371.4,92 370.5,83 374,80 C377,77 384,77 387,80.5 C389,84 388.5,100 388.5,114" stroke="#111" stroke-width="1.7" fill="none"/>
<path d="M391.60,92.00 L391.60,175.80 A15.00,3.60 0 0 0 421.60,175.80 L421.60,92.00 Z" fill="#faa22c" stroke="#111" stroke-width="1.6"/>
<ellipse cx="406.60" cy="92.00" rx="15.00" ry="3.60" fill="#fbc984" stroke="#111" stroke-width="1.6"/>
<path d="M359.40,99.90 L359.40,182.30 A14.60,3.40 0 0 0 388.60,182.30 L388.60,99.90 Z" fill="#b000b0" stroke="#111" stroke-width="1.6"/>
<ellipse cx="374.00" cy="99.90" rx="14.60" ry="3.40" fill="#d468d4" stroke="#111" stroke-width="1.6"/>
<path d="M423.70,100.00 L423.70,182.80 A15.15,3.40 0 0 0 454.00,182.80 L454.00,100.00 Z" fill="#b000b0" stroke="#111" stroke-width="1.6"/>
<ellipse cx="438.85" cy="100.00" rx="15.15" ry="3.40" fill="#d468d4" stroke="#111" stroke-width="1.6"/>
<path d="M406.3,91.2 C405.5,88 403.6,85 403.8,81 C404,77.5 407,76 415,75.8 C428,75.6 443,76.5 447.5,79.5 C451,82.5 449.5,87 441.8,99.4" stroke="#111" stroke-width="1.7" fill="none"/>
<path d="M372.40,114.10 L372.40,197.30 A14.80,3.40 0 0 0 402.00,197.30 L402.00,114.10 Z" fill="#faa22c" stroke="#111" stroke-width="1.6"/>
<ellipse cx="387.20" cy="114.10" rx="14.80" ry="3.40" fill="#fbc984" stroke="#111" stroke-width="1.6"/>
<path d="M408.60,114.10 L408.60,197.30 A15.00,3.40 0 0 0 438.60,197.30 L438.60,114.10 Z" fill="#faa22c" stroke="#111" stroke-width="1.6"/>
<ellipse cx="423.60" cy="114.10" rx="15.00" ry="3.40" fill="#fbc984" stroke="#111" stroke-width="1.6"/>
<path d="M388.5,110 L388.5,114.5" stroke="#111" stroke-width="1.7" fill="none"/>
<path d="M364.5,184 C363,195 363.5,205 368,210 C371,213.5 376,215 379,212.5 C381.5,210 382,205 382,200" stroke="#111" stroke-width="1.7" fill="none"/>
<path d="M427,200 C426.5,205 427,211 431,213.5 C436,215.5 444,213 447.5,208 C450.5,203 450,195 448.5,185" stroke="#111" stroke-width="1.7" fill="none"/>
<text transform="translate(495.4,99.8) rotate(-90)" font-size="10.7" font-weight="bold" text-anchor="middle">absorbance (655 nm)</text>
<line x1="513.20" y1="44.20" x2="513.20" y2="159.60" stroke="#000" stroke-width="1.4"/>
<line x1="510.20" y1="158.90" x2="720.50" y2="158.90" stroke="#000" stroke-width="1.4"/>
<line x1="509.00" y1="158.90" x2="513.20" y2="158.90" stroke="#000" stroke-width="1.3"/>
<text x="508.20" y="162.20" font-size="9.3" font-weight="bold" text-anchor="end" fill="#000" >0</text>
<line x1="509.00" y1="130.40" x2="513.20" y2="130.40" stroke="#000" stroke-width="1.3"/>
<text x="508.20" y="133.70" font-size="9.3" font-weight="bold" text-anchor="end" fill="#000" >1</text>
<line x1="509.00" y1="101.90" x2="513.20" y2="101.90" stroke="#000" stroke-width="1.3"/>
<text x="508.20" y="105.20" font-size="9.3" font-weight="bold" text-anchor="end" fill="#000" >2</text>
<line x1="509.00" y1="73.40" x2="513.20" y2="73.40" stroke="#000" stroke-width="1.3"/>
<text x="508.20" y="76.70" font-size="9.3" font-weight="bold" text-anchor="end" fill="#000" >3</text>
<line x1="509.00" y1="44.90" x2="513.20" y2="44.90" stroke="#000" stroke-width="1.3"/>
<text x="508.20" y="48.20" font-size="9.3" font-weight="bold" text-anchor="end" fill="#000" >4</text>
<rect x="516.00" y="154.62" width="10.20" height="4.28" fill="#d8d8d8" stroke="#000" stroke-width="1.4"/>
<line x1="521.10" y1="158.90" x2="521.10" y2="161.80" stroke="#000" stroke-width="1.3"/>
<text transform="translate(524.30,171.00) rotate(-45)" font-size="10.7" font-weight="bold" text-anchor="end">pET</text>
<line x1="535.85" y1="75.39" x2="535.85" y2="74.83" stroke="#000" stroke-width="1.3"/>
<line x1="533.25" y1="74.83" x2="538.45" y2="74.83" stroke="#000" stroke-width="1.3"/>
<rect x="530.75" y="75.39" width="10.20" height="83.51" fill="#d8d8d8" stroke="#000" stroke-width="1.4"/>
<line x1="535.85" y1="158.90" x2="535.85" y2="161.80" stroke="#000" stroke-width="1.3"/>
<text transform="translate(539.05,171.00) rotate(-45)" font-size="10.7" font-weight="bold" text-anchor="end">ELMO</text>
<line x1="550.85" y1="112.45" x2="550.85" y2="109.03" stroke="#000" stroke-width="1.3"/>
<line x1="548.25" y1="109.03" x2="553.45" y2="109.03" stroke="#000" stroke-width="1.3"/>
<rect x="545.75" y="112.45" width="10.20" height="46.45" fill="#d8d8d8" stroke="#000" stroke-width="1.4"/>
<line x1="550.85" y1="158.90" x2="550.85" y2="161.80" stroke="#000" stroke-width="1.3"/>
<text transform="translate(554.05,171.00) rotate(-45)" font-size="10.7" font-weight="bold" text-anchor="end">&#916;17-ELMO</text>
<line x1="565.60" y1="122.71" x2="565.60" y2="118.43" stroke="#000" stroke-width="1.3"/>
<line x1="563.00" y1="118.43" x2="568.20" y2="118.43" stroke="#000" stroke-width="1.3"/>
<rect x="560.50" y="122.71" width="10.20" height="36.19" fill="#d8d8d8" stroke="#000" stroke-width="1.4"/>
<line x1="565.60" y1="158.90" x2="565.60" y2="161.80" stroke="#000" stroke-width="1.3"/>
<text transform="translate(568.80,171.00) rotate(-45)" font-size="10.7" font-weight="bold" text-anchor="end">&#916;21 ELMO</text>
<line x1="580.55" y1="72.83" x2="580.55" y2="69.98" stroke="#000" stroke-width="1.3"/>
<line x1="577.95" y1="69.98" x2="583.15" y2="69.98" stroke="#000" stroke-width="1.3"/>
<rect x="575.45" y="72.83" width="10.20" height="86.07" fill="#d8d8d8" stroke="#000" stroke-width="1.4"/>
<line x1="580.55" y1="158.90" x2="580.55" y2="161.80" stroke="#000" stroke-width="1.3"/>
<text transform="translate(583.75,171.00) rotate(-45)" font-size="10.7" font-weight="bold" text-anchor="end">ELMO-C34</text>
<line x1="595.05" y1="124.70" x2="595.05" y2="119.00" stroke="#000" stroke-width="1.3"/>
<line x1="592.45" y1="119.00" x2="597.65" y2="119.00" stroke="#000" stroke-width="1.3"/>
<rect x="589.95" y="124.70" width="10.20" height="34.20" fill="#d8d8d8" stroke="#000" stroke-width="1.4"/>
<line x1="595.05" y1="158.90" x2="595.05" y2="161.80" stroke="#000" stroke-width="1.3"/>
<text transform="translate(598.25,171.00) rotate(-45)" font-size="10.7" font-weight="bold" text-anchor="end">&#916;21 ELMO C34</text>
<line x1="609.55" y1="144.65" x2="609.55" y2="141.80" stroke="#000" stroke-width="1.3"/>
<line x1="606.95" y1="141.80" x2="612.15" y2="141.80" stroke="#000" stroke-width="1.3"/>
<rect x="604.45" y="144.65" width="10.20" height="14.25" fill="#d8d8d8" stroke="#000" stroke-width="1.4"/>
<line x1="609.55" y1="158.90" x2="609.55" y2="161.80" stroke="#000" stroke-width="1.3"/>
<text transform="translate(612.75,171.00) rotate(-45)" font-size="10.7" font-weight="bold" text-anchor="end">&#916;21-ELMO-C46</text>
<line x1="624.45" y1="145.79" x2="624.45" y2="142.94" stroke="#000" stroke-width="1.3"/>
<line x1="621.85" y1="142.94" x2="627.05" y2="142.94" stroke="#000" stroke-width="1.3"/>
<rect x="619.35" y="145.79" width="10.20" height="13.11" fill="#d8d8d8" stroke="#000" stroke-width="1.4"/>
<line x1="624.45" y1="158.90" x2="624.45" y2="161.80" stroke="#000" stroke-width="1.3"/>
<text transform="translate(627.65,171.00) rotate(-45)" font-size="10.7" font-weight="bold" text-anchor="end">&#916;21-ELMO-T20</text>
<line x1="639.15" y1="76.25" x2="639.15" y2="72.26" stroke="#000" stroke-width="1.3"/>
<line x1="636.55" y1="72.26" x2="641.75" y2="72.26" stroke="#000" stroke-width="1.3"/>
<rect x="634.05" y="76.25" width="10.20" height="82.65" fill="#d8d8d8" stroke="#000" stroke-width="1.4"/>
<line x1="639.15" y1="158.90" x2="639.15" y2="161.80" stroke="#000" stroke-width="1.3"/>
<text transform="translate(642.35,171.00) rotate(-45)" font-size="10.7" font-weight="bold" text-anchor="end">C26-ELMO</text>
<line x1="654.05" y1="71.98" x2="654.05" y2="67.99" stroke="#000" stroke-width="1.3"/>
<line x1="651.45" y1="67.99" x2="656.65" y2="67.99" stroke="#000" stroke-width="1.3"/>
<rect x="648.95" y="71.98" width="10.20" height="86.92" fill="#d8d8d8" stroke="#000" stroke-width="1.4"/>
<line x1="654.05" y1="158.90" x2="654.05" y2="161.80" stroke="#000" stroke-width="1.3"/>
<text transform="translate(657.25,171.00) rotate(-45)" font-size="10.7" font-weight="bold" text-anchor="end">C34-ELMO</text>
<line x1="669.00" y1="106.46" x2="669.00" y2="105.03" stroke="#000" stroke-width="1.3"/>
<line x1="666.40" y1="105.03" x2="671.60" y2="105.03" stroke="#000" stroke-width="1.3"/>
<rect x="663.90" y="106.46" width="10.20" height="52.44" fill="#d8d8d8" stroke="#000" stroke-width="1.4"/>
<line x1="669.00" y1="158.90" x2="669.00" y2="161.80" stroke="#000" stroke-width="1.3"/>
<text transform="translate(672.20,171.00) rotate(-45)" font-size="10.7" font-weight="bold" text-anchor="end">C46-ELMO</text>
<line x1="683.90" y1="141.23" x2="683.90" y2="138.38" stroke="#000" stroke-width="1.3"/>
<line x1="681.30" y1="138.38" x2="686.50" y2="138.38" stroke="#000" stroke-width="1.3"/>
<rect x="678.80" y="141.23" width="10.20" height="17.67" fill="#d8d8d8" stroke="#000" stroke-width="1.4"/>
<line x1="683.90" y1="158.90" x2="683.90" y2="161.80" stroke="#000" stroke-width="1.3"/>
<text transform="translate(687.10,171.00) rotate(-45)" font-size="10.7" font-weight="bold" text-anchor="end">T20-ELMO</text>
<rect x="693.30" y="154.06" width="10.20" height="4.84" fill="#d8d8d8" stroke="#000" stroke-width="1.4"/>
<line x1="698.40" y1="158.90" x2="698.40" y2="161.80" stroke="#000" stroke-width="1.3"/>
<text transform="translate(701.60,171.00) rotate(-45)" font-size="10.7" font-weight="bold" text-anchor="end">T20</text>
<line x1="713.35" y1="64.56" x2="713.35" y2="60.00" stroke="#000" stroke-width="1.3"/>
<line x1="710.75" y1="60.00" x2="715.95" y2="60.00" stroke="#000" stroke-width="1.3"/>
<rect x="708.25" y="64.56" width="10.20" height="94.34" fill="#d8d8d8" stroke="#000" stroke-width="1.4"/>
<line x1="713.35" y1="158.90" x2="713.35" y2="161.80" stroke="#000" stroke-width="1.3"/>
<text transform="translate(716.55,171.00) rotate(-45)" font-size="10.7" font-weight="bold" text-anchor="end">C34</text>
<defs>
<filter id="bl1" x="-20%" y="-50%" width="140%" height="200%"><feGaussianBlur stdDeviation="0.9 1.0"/></filter>
<filter id="bl2" x="-20%" y="-50%" width="140%" height="200%"><feGaussianBlur stdDeviation="1.2 1.6"/></filter>
<filter id="bl3" x="-20%" y="-50%" width="140%" height="200%"><feGaussianBlur stdDeviation="0.8 2.5"/></filter>
<linearGradient id="g2bg" x1="0" y1="0" x2="1" y2="0"><stop offset="0" stop-color="#ebebeb"/><stop offset="0.35" stop-color="#e1e1e1"/><stop offset="0.62" stop-color="#d4d4d4"/><stop offset="1" stop-color="#cccccc"/></linearGradient>
</defs>
<rect x="83.1" y="318.9" width="128.20000000000002" height="52.400000000000034" fill="#d2d2d2"/>
<clipPath id="clipg1"><rect x="83.1" y="318.9" width="128.20000000000002" height="52.400000000000034"/></clipPath>
<g clip-path="url(#clipg1)">
<rect x="86" y="318.9" width="15" height="52.400000000000034" fill="#bdbdbd" opacity="0.35" filter="url(#bl2)"/>
<rect x="106" y="318.9" width="15" height="52.400000000000034" fill="#bdbdbd" opacity="0.35" filter="url(#bl2)"/>
<rect x="167" y="318.9" width="16" height="52.400000000000034" fill="#bdbdbd" opacity="0.35" filter="url(#bl2)"/>
<rect x="187" y="318.9" width="14" height="52.400000000000034" fill="#bdbdbd" opacity="0.35" filter="url(#bl2)"/>
<path d="M87,329.7 Q93.5,329.7 100,329.7 L100,332.3 Q93.5,332.3 87,332.3 Z" fill="#555" opacity="0.55" filter="url(#bl1)"/>
<path d="M106.5,327.0 Q113.25,327.0 120,327.0 L120,329.6 Q113.25,329.6 106.5,329.6 Z" fill="#555" opacity="0.45" filter="url(#bl1)"/>
<path d="M167.6,330.6 Q175.45,330.6 183.3,330.6 L183.3,333.4 Q175.45,333.4 167.6,333.4 Z" fill="#333" opacity="0.7" filter="url(#bl1)"/>
<rect x="167.6" y="318.9" width="15.7" height="11" fill="#999" opacity="0.3" filter="url(#bl2)"/>
<path d="M188,329.2 Q194.5,329.2 201,329.2 L201,331.8 Q194.5,331.8 188,331.8 Z" fill="#666" opacity="0.3" filter="url(#bl1)"/>
<rect x="126.8" y="315.9" width="17.500000000000014" height="16.100000000000023" fill="#5c5c5c" filter="url(#bl1)"/>
<rect x="129.8" y="323.9" width="11.500000000000014" height="4.100000000000023" fill="#848484" opacity="0.9" filter="url(#bl2)"/>
<rect x="127.3" y="316.9" width="16.500000000000014" height="5" fill="#444" opacity="0.8" filter="url(#bl1)"/>
<rect x="126.8" y="333.0" width="17.500000000000014" height="23.600000000000023" fill="#7e7e7e" filter="url(#bl1)"/>
<rect x="129.8" y="335.0" width="11.500000000000014" height="19.600000000000023" fill="#bababa" filter="url(#bl2)"/>
<path d="M126.8,328.9 Q135.55,330.1 144.3,328.9 L144.3,333.9 Q135.55,335.1 126.8,333.9 Z" fill="#161616" opacity="1.0" filter="url(#bl1)"/>
<path d="M126.8,353.3 Q135.55,355.90000000000003 144.3,353.3 L144.3,359.3 Q135.55,361.90000000000003 126.8,359.3 Z" fill="#111" opacity="1.0" filter="url(#bl1)"/>
<rect x="147.7" y="315.9" width="16.600000000000023" height="17.100000000000023" fill="#5c5c5c" filter="url(#bl1)"/>
<rect x="150.7" y="323.9" width="10.600000000000023" height="5.100000000000023" fill="#848484" opacity="0.9" filter="url(#bl2)"/>
<rect x="148.2" y="316.9" width="15.600000000000023" height="5" fill="#444" opacity="0.8" filter="url(#bl1)"/>
<rect x="147.7" y="334.0" width="16.600000000000023" height="20.600000000000023" fill="#7e7e7e" filter="url(#bl1)"/>
<rect x="150.7" y="336.0" width="10.600000000000023" height="16.600000000000023" fill="#c2c2c2" filter="url(#bl2)"/>
<path d="M147.7,329.9 Q156.0,331.1 164.3,329.9 L164.3,334.9 Q156.0,336.1 147.7,334.9 Z" fill="#161616" opacity="1.0" filter="url(#bl1)"/>
<path d="M147.7,351.3 Q156.0,353.90000000000003 164.3,351.3 L164.3,357.3 Q156.0,359.90000000000003 147.7,357.3 Z" fill="#111" opacity="1.0" filter="url(#bl1)"/>
</g>
<rect x="83.1" y="318.9" width="128.20000000000002" height="52.400000000000034" fill="none" stroke="#111" stroke-width="1.8"/>
<text x="93.70" y="380.40" font-size="10" text-anchor="middle" fill="#111" >1</text>
<text x="115.10" y="380.40" font-size="10" text-anchor="middle" fill="#111" >2</text>
<text x="136.30" y="380.40" font-size="10" text-anchor="middle" fill="#111" >3</text>
<text x="156.40" y="380.40" font-size="10" text-anchor="middle" fill="#111" >4</text>
<text x="174.90" y="380.40" font-size="10" text-anchor="middle" fill="#111" >5</text>
<text x="196.10" y="380.40" font-size="10" text-anchor="middle" fill="#111" >6</text>
<text transform="translate(93.30,316.60) rotate(-52)" font-size="11" fill="#111">&#916;21-ELMO</text>
<text transform="translate(114.90,316.60) rotate(-52)" font-size="11" fill="#111">&#916;17-ELMO</text>
<text transform="translate(134.70,316.60) rotate(-52)" font-size="11" fill="#111">C26-ELMO</text>
<text transform="translate(154.50,316.60) rotate(-52)" font-size="11" fill="#111">C34-ELMO</text>
<text transform="translate(174.40,316.60) rotate(-52)" font-size="11" fill="#111">C46-ELMO</text>
<text transform="translate(194.20,316.60) rotate(-52)" font-size="11" fill="#111">T20-ELMO</text>
<path d="M214.1,332.6 L227.29999999999998,327.8 L227.29999999999998,337.40000000000003 Z" fill="#000"/>
<line x1="226.10" y1="332.60" x2="233.60" y2="332.60" stroke="#000" stroke-width="1.3"/>
<text x="234.70" y="334.80" font-size="10.8" text-anchor="start" fill="#111" >5-helix-His6</text>
<path d="M214.1,356.3 L227.29999999999998,351.5 L227.29999999999998,361.1 Z" fill="#000"/>
<line x1="226.10" y1="356.30" x2="233.60" y2="356.30" stroke="#000" stroke-width="1.3"/>
<text x="234.70" y="358.50" font-size="10.8" text-anchor="start" fill="#111" >co-eluted</text>
<text x="234.70" y="370.10" font-size="10.8" text-anchor="start" fill="#111" >protein</text>
<rect x="80.1" y="449.6" width="157.9" height="51.299999999999955" fill="url(#g2bg)"/>
<clipPath id="clipg2"><rect x="80.1" y="449.6" width="157.9" height="51.299999999999955"/></clipPath>
<g clip-path="url(#clipg2)">
<rect x="132.6" y="449.6" width="20.099999999999994" height="51.299999999999955" fill="#b8b8b8" opacity="0.25" filter="url(#bl2)"/>
<rect x="156.5" y="449.6" width="22.19999999999999" height="51.299999999999955" fill="#b8b8b8" opacity="0.25" filter="url(#bl2)"/>
<rect x="183" y="449.6" width="20" height="51.299999999999955" fill="#b8b8b8" opacity="0.25" filter="url(#bl2)"/>
<rect x="207" y="449.6" width="22" height="51.299999999999955" fill="#b8b8b8" opacity="0.25" filter="url(#bl2)"/>
<path d="M82,462.6 Q91.4,462.6 100.8,462.6 L100.8,465.0 Q91.4,465.0 82,465.0 Z" fill="#555" opacity="0.4" filter="url(#bl1)"/>
<path d="M106.2,461.2 Q116.5,461.2 126.8,461.2 L126.8,463.8 Q116.5,463.8 106.2,463.8 Z" fill="#555" opacity="0.5" filter="url(#bl1)"/>
<path d="M183,462.5 Q193.0,462.5 203,462.5 L203,465.5 Q193.0,465.5 183,465.5 Z" fill="#555" opacity="0.35" filter="url(#bl2)"/>
<path d="M207,462.4 Q218.0,462.4 229,462.4 L229,465.6 Q218.0,465.6 207,465.6 Z" fill="#555" opacity="0.35" filter="url(#bl2)"/>
<rect x="132.6" y="449.6" width="20" height="11" fill="#999" opacity="0.35" filter="url(#bl2)"/>
<rect x="156.5" y="449.6" width="22" height="12" fill="#999" opacity="0.3" filter="url(#bl2)"/>
<path d="M133,460.7 Q142.75,461.3 152.5,460.7 L152.5,463.49999999999994 Q142.75,464.09999999999997 133,463.49999999999994 Z" fill="#222" opacity="0.95" filter="url(#bl1)"/>
<path d="M157,461.95 Q167.75,462.55 178.5,461.95 L178.5,464.65000000000003 Q167.75,465.25000000000006 157,464.65000000000003 Z" fill="#2a2a2a" opacity="0.9" filter="url(#bl1)"/>
<path d="M133.5,480.3 Q143.0,482.7 152.5,480.3 L152.5,483.3 Q143.0,485.7 133.5,483.3 Z" fill="#2a2a2a" opacity="0.9" filter="url(#bl1)"/>
<path d="M159,485.40000000000003 Q168.75,485.40000000000003 178.5,485.40000000000003 L178.5,488.2 Q168.75,488.2 159,488.2 Z" fill="#555" opacity="0.75" filter="url(#bl1)"/>
<path d="M160,489.70000000000005 Q169.0,489.70000000000005 178,489.70000000000005 L178,491.5 Q169.0,491.5 160,491.5 Z" fill="#888" opacity="0.5" filter="url(#bl1)"/>
<circle cx="94.3" cy="492.6" r="3" fill="#aaa" opacity="0.35" filter="url(#bl2)"/>
<circle cx="196.7" cy="475.9" r="1.3" fill="#777" opacity="0.6" filter="url(#bl1)"/>
</g>
<rect x="80.1" y="449.6" width="157.9" height="51.299999999999955" fill="none" stroke="#111" stroke-width="1.8"/>
<text x="91.00" y="510.80" font-size="10" text-anchor="middle" fill="#111" >7</text>
<text x="116.60" y="510.80" font-size="10" text-anchor="middle" fill="#111" >8</text>
<text x="142.40" y="510.80" font-size="10" text-anchor="middle" fill="#111" >9</text>
<text x="168.00" y="510.80" font-size="10" text-anchor="middle" fill="#111" >10</text>
<text x="193.50" y="510.80" font-size="10" text-anchor="middle" fill="#111" >11</text>
<text x="218.30" y="510.80" font-size="10" text-anchor="middle" fill="#111" >12</text>
<text transform="translate(89.50,446.00) rotate(-52)" font-size="11" fill="#111">&#916;21-ELMO</text>
<text transform="translate(117.00,446.00) rotate(-52)" font-size="11" fill="#111">&#916;17-ELMO</text>
<text transform="translate(141.30,446.00) rotate(-52)" font-size="11" fill="#111">ELMO-C34</text>
<text transform="translate(166.60,446.00) rotate(-52)" font-size="11" fill="#111">&#916;21-ELMO-C34</text>
<text transform="translate(194.20,446.00) rotate(-52)" font-size="11" fill="#111">&#916;21-ELMO-C46</text>
<text transform="translate(219.50,446.00) rotate(-52)" font-size="11" fill="#111">&#916;21-ELMO-T20</text>
<path d="M240.2,463.6 L253.39999999999998,458.8 L253.39999999999998,468.40000000000003 Z" fill="#000"/>
<line x1="252.20" y1="463.60" x2="259.70" y2="463.60" stroke="#000" stroke-width="1.3"/>
<text x="260.80" y="465.80" font-size="10.8" text-anchor="start" fill="#111" >5-helix-His6</text>
<path d="M240.2,487.1 L253.39999999999998,482.3 L253.39999999999998,491.90000000000003 Z" fill="#000"/>
<line x1="252.20" y1="487.10" x2="259.70" y2="487.10" stroke="#000" stroke-width="1.3"/>
<text x="260.80" y="489.30" font-size="10.8" text-anchor="start" fill="#111" >co-eluted</text>
<text x="260.80" y="500.90" font-size="10.8" text-anchor="start" fill="#111" >protein</text>
<g transform="translate(342.8,0) scale(0.925,1) translate(-342.8,0)"><text y="300.2" font-size="10.7" fill="#111"><tspan x="342.80" >C26-ELMO</tspan><tspan x="399.23" >(</tspan><tspan x="401.72" font-style="italic">K</tspan><tspan x="409.29" font-size="8.1" dy="2.8">D</tspan><tspan x="416.96" dy="-2.8">=</tspan><tspan x="425.39" >91</tspan><tspan x="440.10" >+/-8</tspan><tspan x="460.85" >nM)</tspan></text></g>
<text transform="translate(352.30,369.8) rotate(-90)" font-size="9.75" font-weight="bold" text-anchor="middle">normalized Abs (655 nm)</text>
<line x1="375.60" y1="311.00" x2="375.60" y2="430.40" stroke="#000" stroke-width="1.5"/>
<line x1="371.10" y1="429.50" x2="375.60" y2="429.50" stroke="#000" stroke-width="1.4"/>
<text x="370.00" y="432.90" font-size="9.6" font-weight="bold" text-anchor="end" fill="#000" >0.0</text>
<line x1="371.10" y1="407.96" x2="375.60" y2="407.96" stroke="#000" stroke-width="1.4"/>
<text x="370.00" y="411.36" font-size="9.6" font-weight="bold" text-anchor="end" fill="#000" >0.2</text>
<line x1="371.10" y1="386.42" x2="375.60" y2="386.42" stroke="#000" stroke-width="1.4"/>
<text x="370.00" y="389.82" font-size="9.6" font-weight="bold" text-anchor="end" fill="#000" >0.4</text>
<line x1="371.10" y1="364.88" x2="375.60" y2="364.88" stroke="#000" stroke-width="1.4"/>
<text x="370.00" y="368.28" font-size="9.6" font-weight="bold" text-anchor="end" fill="#000" >0.6</text>
<line x1="371.10" y1="343.34" x2="375.60" y2="343.34" stroke="#000" stroke-width="1.4"/>
<text x="370.00" y="346.74" font-size="9.6" font-weight="bold" text-anchor="end" fill="#000" >0.8</text>
<line x1="371.10" y1="321.80" x2="375.60" y2="321.80" stroke="#000" stroke-width="1.4"/>
<text x="370.00" y="325.20" font-size="9.6" font-weight="bold" text-anchor="end" fill="#000" >1.0</text>
<line x1="380.20" y1="433.90" x2="457.80" y2="433.90" stroke="#000" stroke-width="1.6"/>
<line x1="392.60" y1="433.90" x2="392.60" y2="438.10" stroke="#000" stroke-width="1.4"/>
<text x="392.80" y="448.8" font-size="8.8" font-weight="bold" text-anchor="end">10</text><text x="392.90" y="445.6" font-size="7.2" font-weight="bold">-10</text>
<line x1="418.80" y1="433.90" x2="418.80" y2="438.10" stroke="#000" stroke-width="1.4"/>
<text x="419.00" y="448.8" font-size="8.8" font-weight="bold" text-anchor="end">10</text><text x="419.10" y="445.6" font-size="7.2" font-weight="bold">-8</text>
<line x1="445.00" y1="433.90" x2="445.00" y2="438.10" stroke="#000" stroke-width="1.4"/>
<text x="445.20" y="448.8" font-size="8.8" font-weight="bold" text-anchor="end">10</text><text x="445.30" y="445.6" font-size="7.2" font-weight="bold">-6</text>
<text x="419.00" y="467.0" font-size="9.1" font-weight="bold" text-anchor="middle">[protein, M]</text>
<path d="M380.16,429.49 L380.54,429.49 L380.93,429.49 L381.32,429.49 L381.71,429.49 L382.10,429.49 L382.49,429.49 L382.87,429.49 L383.26,429.49 L383.65,429.49 L384.04,429.49 L384.43,429.49 L384.82,429.49 L385.20,429.49 L385.59,429.48 L385.98,429.48 L386.37,429.48 L386.76,429.48 L387.15,429.48 L387.53,429.48 L387.92,429.47 L388.31,429.47 L388.70,429.47 L389.09,429.47 L389.48,429.47 L389.86,429.46 L390.25,429.46 L390.64,429.46 L391.03,429.45 L391.42,429.45 L391.81,429.45 L392.20,429.44 L392.58,429.44 L392.97,429.43 L393.36,429.43 L393.75,429.42 L394.14,429.41 L394.53,429.41 L394.91,429.40 L395.30,429.39 L395.69,429.38 L396.08,429.37 L396.47,429.36 L396.86,429.35 L397.24,429.34 L397.63,429.33 L398.02,429.31 L398.41,429.30 L398.80,429.28 L399.19,429.27 L399.57,429.25 L399.96,429.23 L400.35,429.21 L400.74,429.18 L401.13,429.16 L401.52,429.13 L401.90,429.10 L402.29,429.07 L402.68,429.03 L403.07,429.00 L403.46,428.96 L403.85,428.91 L404.24,428.87 L404.62,428.82 L405.01,428.76 L405.40,428.70 L405.79,428.64 L406.18,428.57 L406.57,428.50 L406.95,428.42 L407.34,428.33 L407.73,428.24 L408.12,428.14 L408.51,428.04 L408.90,427.92 L409.28,427.80 L409.67,427.66 L410.06,427.52 L410.45,427.36 L410.84,427.19 L411.23,427.01 L411.61,426.82 L412.00,426.61 L412.39,426.39 L412.78,426.14 L413.17,425.89 L413.56,425.61 L413.95,425.31 L414.33,424.99 L414.72,424.64 L415.11,424.27 L415.50,423.87 L415.89,423.45 L416.28,422.99 L416.66,422.50 L417.05,421.98 L417.44,421.43 L417.83,420.83 L418.22,420.20 L418.61,419.52 L418.99,418.80 L419.38,418.03 L419.77,417.22 L420.16,416.36 L420.55,415.44 L420.94,414.47 L421.32,413.45 L421.71,412.36 L422.10,411.22 L422.49,410.02 L422.88,408.76 L423.27,407.44 L423.65,406.05 L424.04,404.61 L424.43,403.10 L424.82,401.53 L425.21,399.90 L425.60,398.22 L425.99,396.47 L426.37,394.68 L426.76,392.83 L427.15,390.94 L427.54,389.00 L427.93,387.03 L428.32,385.02 L428.70,382.99 L429.09,380.93 L429.48,378.86 L429.87,376.77 L430.26,374.68 L430.65,372.59 L431.03,370.51 L431.42,368.45 L431.81,366.40 L432.20,364.38 L432.59,362.39 L432.98,360.43 L433.36,358.52 L433.75,356.65 L434.14,354.83 L434.53,353.06 L434.92,351.35 L435.31,349.69 L435.70,348.09 L436.08,346.56 L436.47,345.08 L436.86,343.66 L437.25,342.31 L437.64,341.02 L438.03,339.79 L438.41,338.62 L438.80,337.51 L439.19,336.46 L439.58,335.46 L439.97,334.52 L440.36,333.63 L440.74,332.79 L441.13,332.00 L441.52,331.26 L441.91,330.56 L442.30,329.91 L442.69,329.30 L443.07,328.72 L443.46,328.18 L443.85,327.68 L444.24,327.21 L444.63,326.77 L445.02,326.36 L445.40,325.98 L445.79,325.62 L446.18,325.29 L446.57,324.97 L446.96,324.69 L447.35,324.42 L447.74,324.17 L448.12,323.93 L448.51,323.72 L448.90,323.52 L449.29,323.33 L449.68,323.16 L450.07,323.00 L450.45,322.85 L450.84,322.71 L451.23,322.58 L451.62,322.46 L452.01,322.35 L452.40,322.24 L452.78,322.15 L453.17,322.06 L453.56,321.98 L453.95,321.90 L454.34,321.83 L454.73,321.76 L455.11,321.70 L455.50,321.65 L455.89,321.59 L456.28,321.55 L456.67,321.50 L457.06,321.46 L457.44,321.42" fill="none" stroke="#000" stroke-width="1.8"/>
<circle cx="380.2" cy="428.1" r="2.5" fill="#000"/>
<circle cx="393" cy="428.1" r="2.5" fill="#000"/>
<circle cx="405.9" cy="428.1" r="2.5" fill="#000"/>
<circle cx="418.7" cy="423.6" r="2.5" fill="#000"/>
<circle cx="423.8" cy="405.1" r="2.5" fill="#000"/>
<circle cx="427.9" cy="390.2" r="2.5" fill="#000"/>
<circle cx="430.2" cy="380" r="2.5" fill="#000"/>
<circle cx="432" cy="369.2" r="2.5" fill="#000"/>
<circle cx="435.4" cy="347.5" r="2.5" fill="#000"/>
<circle cx="441.9" cy="335.8" r="2.5" fill="#000"/>
<circle cx="443.3" cy="332.4" r="2.5" fill="#000"/>
<circle cx="444.6" cy="322.9" r="2.5" fill="#000"/>
<circle cx="457.5" cy="321.5" r="2.5" fill="#000"/>
<line x1="423.80" y1="401.70" x2="423.80" y2="408.50" stroke="#000" stroke-width="1.1"/>
<line x1="421.20" y1="401.70" x2="426.40" y2="401.70" stroke="#000" stroke-width="1.1"/>
<line x1="421.20" y1="408.50" x2="426.40" y2="408.50" stroke="#000" stroke-width="1.1"/>
<line x1="427.90" y1="387.50" x2="427.90" y2="392.20" stroke="#000" stroke-width="1.1"/>
<line x1="425.30" y1="387.50" x2="430.50" y2="387.50" stroke="#000" stroke-width="1.1"/>
<line x1="425.30" y1="392.20" x2="430.50" y2="392.20" stroke="#000" stroke-width="1.1"/>
<line x1="432.00" y1="361.70" x2="432.00" y2="377.30" stroke="#000" stroke-width="1.1"/>
<line x1="429.40" y1="361.70" x2="434.60" y2="361.70" stroke="#000" stroke-width="1.1"/>
<line x1="429.40" y1="377.30" x2="434.60" y2="377.30" stroke="#000" stroke-width="1.1"/>
<line x1="435.40" y1="340.00" x2="435.40" y2="355.60" stroke="#000" stroke-width="1.1"/>
<line x1="432.80" y1="340.00" x2="438.00" y2="340.00" stroke="#000" stroke-width="1.1"/>
<line x1="432.80" y1="355.60" x2="438.00" y2="355.60" stroke="#000" stroke-width="1.1"/>
<line x1="442.60" y1="330.40" x2="442.60" y2="337.80" stroke="#000" stroke-width="1.1"/>
<line x1="440.00" y1="330.40" x2="445.20" y2="330.40" stroke="#000" stroke-width="1.1"/>
<line x1="440.00" y1="337.80" x2="445.20" y2="337.80" stroke="#000" stroke-width="1.1"/>
<line x1="444.80" y1="320.90" x2="444.80" y2="326.30" stroke="#000" stroke-width="1.1"/>
<line x1="442.20" y1="320.90" x2="447.40" y2="320.90" stroke="#000" stroke-width="1.1"/>
<line x1="442.20" y1="326.30" x2="447.40" y2="326.30" stroke="#000" stroke-width="1.1"/>
<g transform="translate(499.2,0) scale(0.925,1) translate(-499.2,0)"><text y="300.2" font-size="10.7" fill="#111"><tspan x="499.20" >C34-ELMO</tspan><tspan x="555.85" >(</tspan><tspan x="558.66" font-style="italic">K</tspan><tspan x="566.23" font-size="8.1" dy="2.8">D</tspan><tspan x="574.23" dy="-2.8">=</tspan><tspan x="582.23" >6</tspan><tspan x="591.85" >+/-2</tspan><tspan x="612.61" >nM)</tspan></text></g>
<text transform="translate(505.90,369.8) rotate(-90)" font-size="9.75" font-weight="bold" text-anchor="middle">normalized Abs (655 nm)</text>
<line x1="529.20" y1="311.00" x2="529.20" y2="430.40" stroke="#000" stroke-width="1.5"/>
<line x1="524.70" y1="429.40" x2="529.20" y2="429.40" stroke="#000" stroke-width="1.4"/>
<text x="523.60" y="432.80" font-size="9.6" font-weight="bold" text-anchor="end" fill="#000" >0.0</text>
<line x1="524.70" y1="407.70" x2="529.20" y2="407.70" stroke="#000" stroke-width="1.4"/>
<text x="523.60" y="411.10" font-size="9.6" font-weight="bold" text-anchor="end" fill="#000" >0.2</text>
<line x1="524.70" y1="386.00" x2="529.20" y2="386.00" stroke="#000" stroke-width="1.4"/>
<text x="523.60" y="389.40" font-size="9.6" font-weight="bold" text-anchor="end" fill="#000" >0.4</text>
<line x1="524.70" y1="364.30" x2="529.20" y2="364.30" stroke="#000" stroke-width="1.4"/>
<text x="523.60" y="367.70" font-size="9.6" font-weight="bold" text-anchor="end" fill="#000" >0.6</text>
<line x1="524.70" y1="342.60" x2="529.20" y2="342.60" stroke="#000" stroke-width="1.4"/>
<text x="523.60" y="346.00" font-size="9.6" font-weight="bold" text-anchor="end" fill="#000" >0.8</text>
<line x1="524.70" y1="320.90" x2="529.20" y2="320.90" stroke="#000" stroke-width="1.4"/>
<text x="523.60" y="324.30" font-size="9.6" font-weight="bold" text-anchor="end" fill="#000" >1.0</text>
<line x1="534.20" y1="434.00" x2="611.60" y2="434.00" stroke="#000" stroke-width="1.6"/>
<line x1="546.70" y1="434.00" x2="546.70" y2="438.20" stroke="#000" stroke-width="1.4"/>
<text x="546.90" y="448.8" font-size="8.8" font-weight="bold" text-anchor="end">10</text><text x="547.00" y="445.6" font-size="7.2" font-weight="bold">-10</text>
<line x1="572.30" y1="434.00" x2="572.30" y2="438.20" stroke="#000" stroke-width="1.4"/>
<text x="572.50" y="448.8" font-size="8.8" font-weight="bold" text-anchor="end">10</text><text x="572.60" y="445.6" font-size="7.2" font-weight="bold">-8</text>
<line x1="597.90" y1="434.00" x2="597.90" y2="438.20" stroke="#000" stroke-width="1.4"/>
<text x="598.10" y="448.8" font-size="8.8" font-weight="bold" text-anchor="end">10</text><text x="598.20" y="445.6" font-size="7.2" font-weight="bold">-6</text>
<text x="572.90" y="467.0" font-size="9.1" font-weight="bold" text-anchor="middle">[protein, M]</text>
<path d="M534.03,429.26 L534.36,429.25 L534.69,429.24 L535.02,429.23 L535.35,429.22 L535.68,429.21 L536.01,429.20 L536.34,429.18 L536.67,429.17 L537.00,429.15 L537.33,429.14 L537.66,429.12 L537.99,429.10 L538.32,429.09 L538.65,429.07 L538.98,429.04 L539.31,429.02 L539.64,429.00 L539.97,428.97 L540.30,428.94 L540.63,428.92 L540.96,428.89 L541.29,428.85 L541.62,428.82 L541.95,428.78 L542.28,428.74 L542.61,428.70 L542.94,428.66 L543.27,428.61 L543.60,428.56 L543.93,428.51 L544.26,428.45 L544.59,428.39 L544.92,428.33 L545.25,428.26 L545.58,428.19 L545.91,428.11 L546.24,428.03 L546.57,427.95 L546.90,427.86 L547.23,427.76 L547.56,427.66 L547.89,427.55 L548.22,427.43 L548.55,427.31 L548.88,427.18 L549.21,427.04 L549.54,426.89 L549.87,426.74 L550.20,426.57 L550.53,426.40 L550.86,426.21 L551.19,426.02 L551.52,425.81 L551.85,425.59 L552.18,425.36 L552.51,425.11 L552.84,424.85 L553.17,424.57 L553.50,424.28 L553.83,423.97 L554.16,423.64 L554.49,423.29 L554.82,422.93 L555.15,422.54 L555.48,422.13 L555.81,421.70 L556.14,421.25 L556.47,420.77 L556.80,420.27 L557.13,419.74 L557.46,419.18 L557.79,418.59 L558.12,417.97 L558.45,417.32 L558.78,416.64 L559.11,415.93 L559.44,415.18 L559.77,414.39 L560.10,413.57 L560.43,412.71 L560.76,411.81 L561.09,410.88 L561.42,409.90 L561.75,408.88 L562.08,407.82 L562.41,406.72 L562.74,405.58 L563.07,404.40 L563.40,403.17 L563.73,401.91 L564.06,400.60 L564.39,399.25 L564.72,397.86 L565.05,396.43 L565.38,394.96 L565.71,393.46 L566.04,391.92 L566.37,390.35 L566.70,388.75 L567.02,387.12 L567.35,385.46 L567.68,383.77 L568.01,382.07 L568.34,380.35 L568.67,378.61 L569.00,376.86 L569.33,375.10 L569.66,373.33 L569.99,371.56 L570.32,369.79 L570.65,368.02 L570.98,366.27 L571.31,364.52 L571.64,362.79 L571.97,361.07 L572.30,359.37 L572.63,357.70 L572.96,356.05 L573.29,354.43 L573.62,352.84 L573.95,351.28 L574.28,349.75 L574.61,348.26 L574.94,346.81 L575.27,345.40 L575.60,344.02 L575.93,342.69 L576.26,341.40 L576.59,340.15 L576.92,338.94 L577.25,337.77 L577.58,336.64 L577.91,335.56 L578.24,334.52 L578.57,333.52 L578.90,332.55 L579.23,331.63 L579.56,330.75 L579.89,329.90 L580.22,329.10 L580.55,328.33 L580.88,327.59 L581.21,326.89 L581.54,326.22 L581.87,325.58 L582.20,324.97 L582.53,324.40 L582.86,323.85 L583.19,323.33 L583.52,322.83 L583.85,322.36 L584.18,321.92 L584.51,321.50 L584.84,321.10 L585.17,320.72 L585.50,320.36 L585.83,320.02 L586.16,319.70 L586.49,319.40 L586.82,319.11 L587.15,318.84 L587.48,318.58 L587.81,318.34 L588.14,318.11 L588.47,317.90 L588.80,317.70 L589.13,317.50 L589.46,317.32 L589.79,317.15 L590.12,316.99 L590.45,316.84 L590.78,316.70 L591.11,316.56 L591.44,316.43 L591.77,316.31 L592.10,316.20 L592.43,316.09 L592.76,315.99 L593.09,315.90 L593.42,315.81 L593.75,315.73 L594.08,315.65 L594.41,315.57 L594.74,315.50 L595.07,315.44 L595.40,315.38 L595.73,315.32 L596.06,315.26 L596.39,315.21 L596.72,315.16 L597.05,315.12 L597.38,315.07 L597.71,315.03 L598.04,314.99 L598.37,314.96 L598.70,314.92 L599.03,314.89 L599.36,314.86 L599.69,314.83" fill="none" stroke="#000" stroke-width="1.8"/>
<circle cx="534" cy="427.6" r="2.5" fill="#000"/>
<circle cx="546.7" cy="427.6" r="2.5" fill="#000"/>
<circle cx="559.7" cy="425.4" r="2.5" fill="#000"/>
<circle cx="568.6" cy="394.6" r="2.5" fill="#000"/>
<circle cx="572.8" cy="357.8" r="2.5" fill="#000"/>
<circle cx="577.3" cy="322.4" r="2.5" fill="#000"/>
<circle cx="578.4" cy="320.6" r="2.5" fill="#000"/>
<circle cx="588.9" cy="323.2" r="2.5" fill="#000"/>
<circle cx="596.6" cy="322.3" r="2.5" fill="#000"/>
<circle cx="598.5" cy="321.4" r="2.5" fill="#000"/>
<line x1="568.90" y1="390.20" x2="568.90" y2="399.40" stroke="#000" stroke-width="1.1"/>
<line x1="566.30" y1="390.20" x2="571.50" y2="390.20" stroke="#000" stroke-width="1.1"/>
<line x1="566.30" y1="399.40" x2="571.50" y2="399.40" stroke="#000" stroke-width="1.1"/>
<line x1="572.80" y1="346.60" x2="572.80" y2="369.80" stroke="#000" stroke-width="1.1"/>
<line x1="570.20" y1="346.60" x2="575.40" y2="346.60" stroke="#000" stroke-width="1.1"/>
<line x1="570.20" y1="369.80" x2="575.40" y2="369.80" stroke="#000" stroke-width="1.1"/>
<line x1="577.60" y1="314.30" x2="577.60" y2="326.70" stroke="#000" stroke-width="1.1"/>
<line x1="575.00" y1="314.30" x2="580.20" y2="314.30" stroke="#000" stroke-width="1.1"/>
<line x1="575.00" y1="326.70" x2="580.20" y2="326.70" stroke="#000" stroke-width="1.1"/>
</svg>
</body></html>
